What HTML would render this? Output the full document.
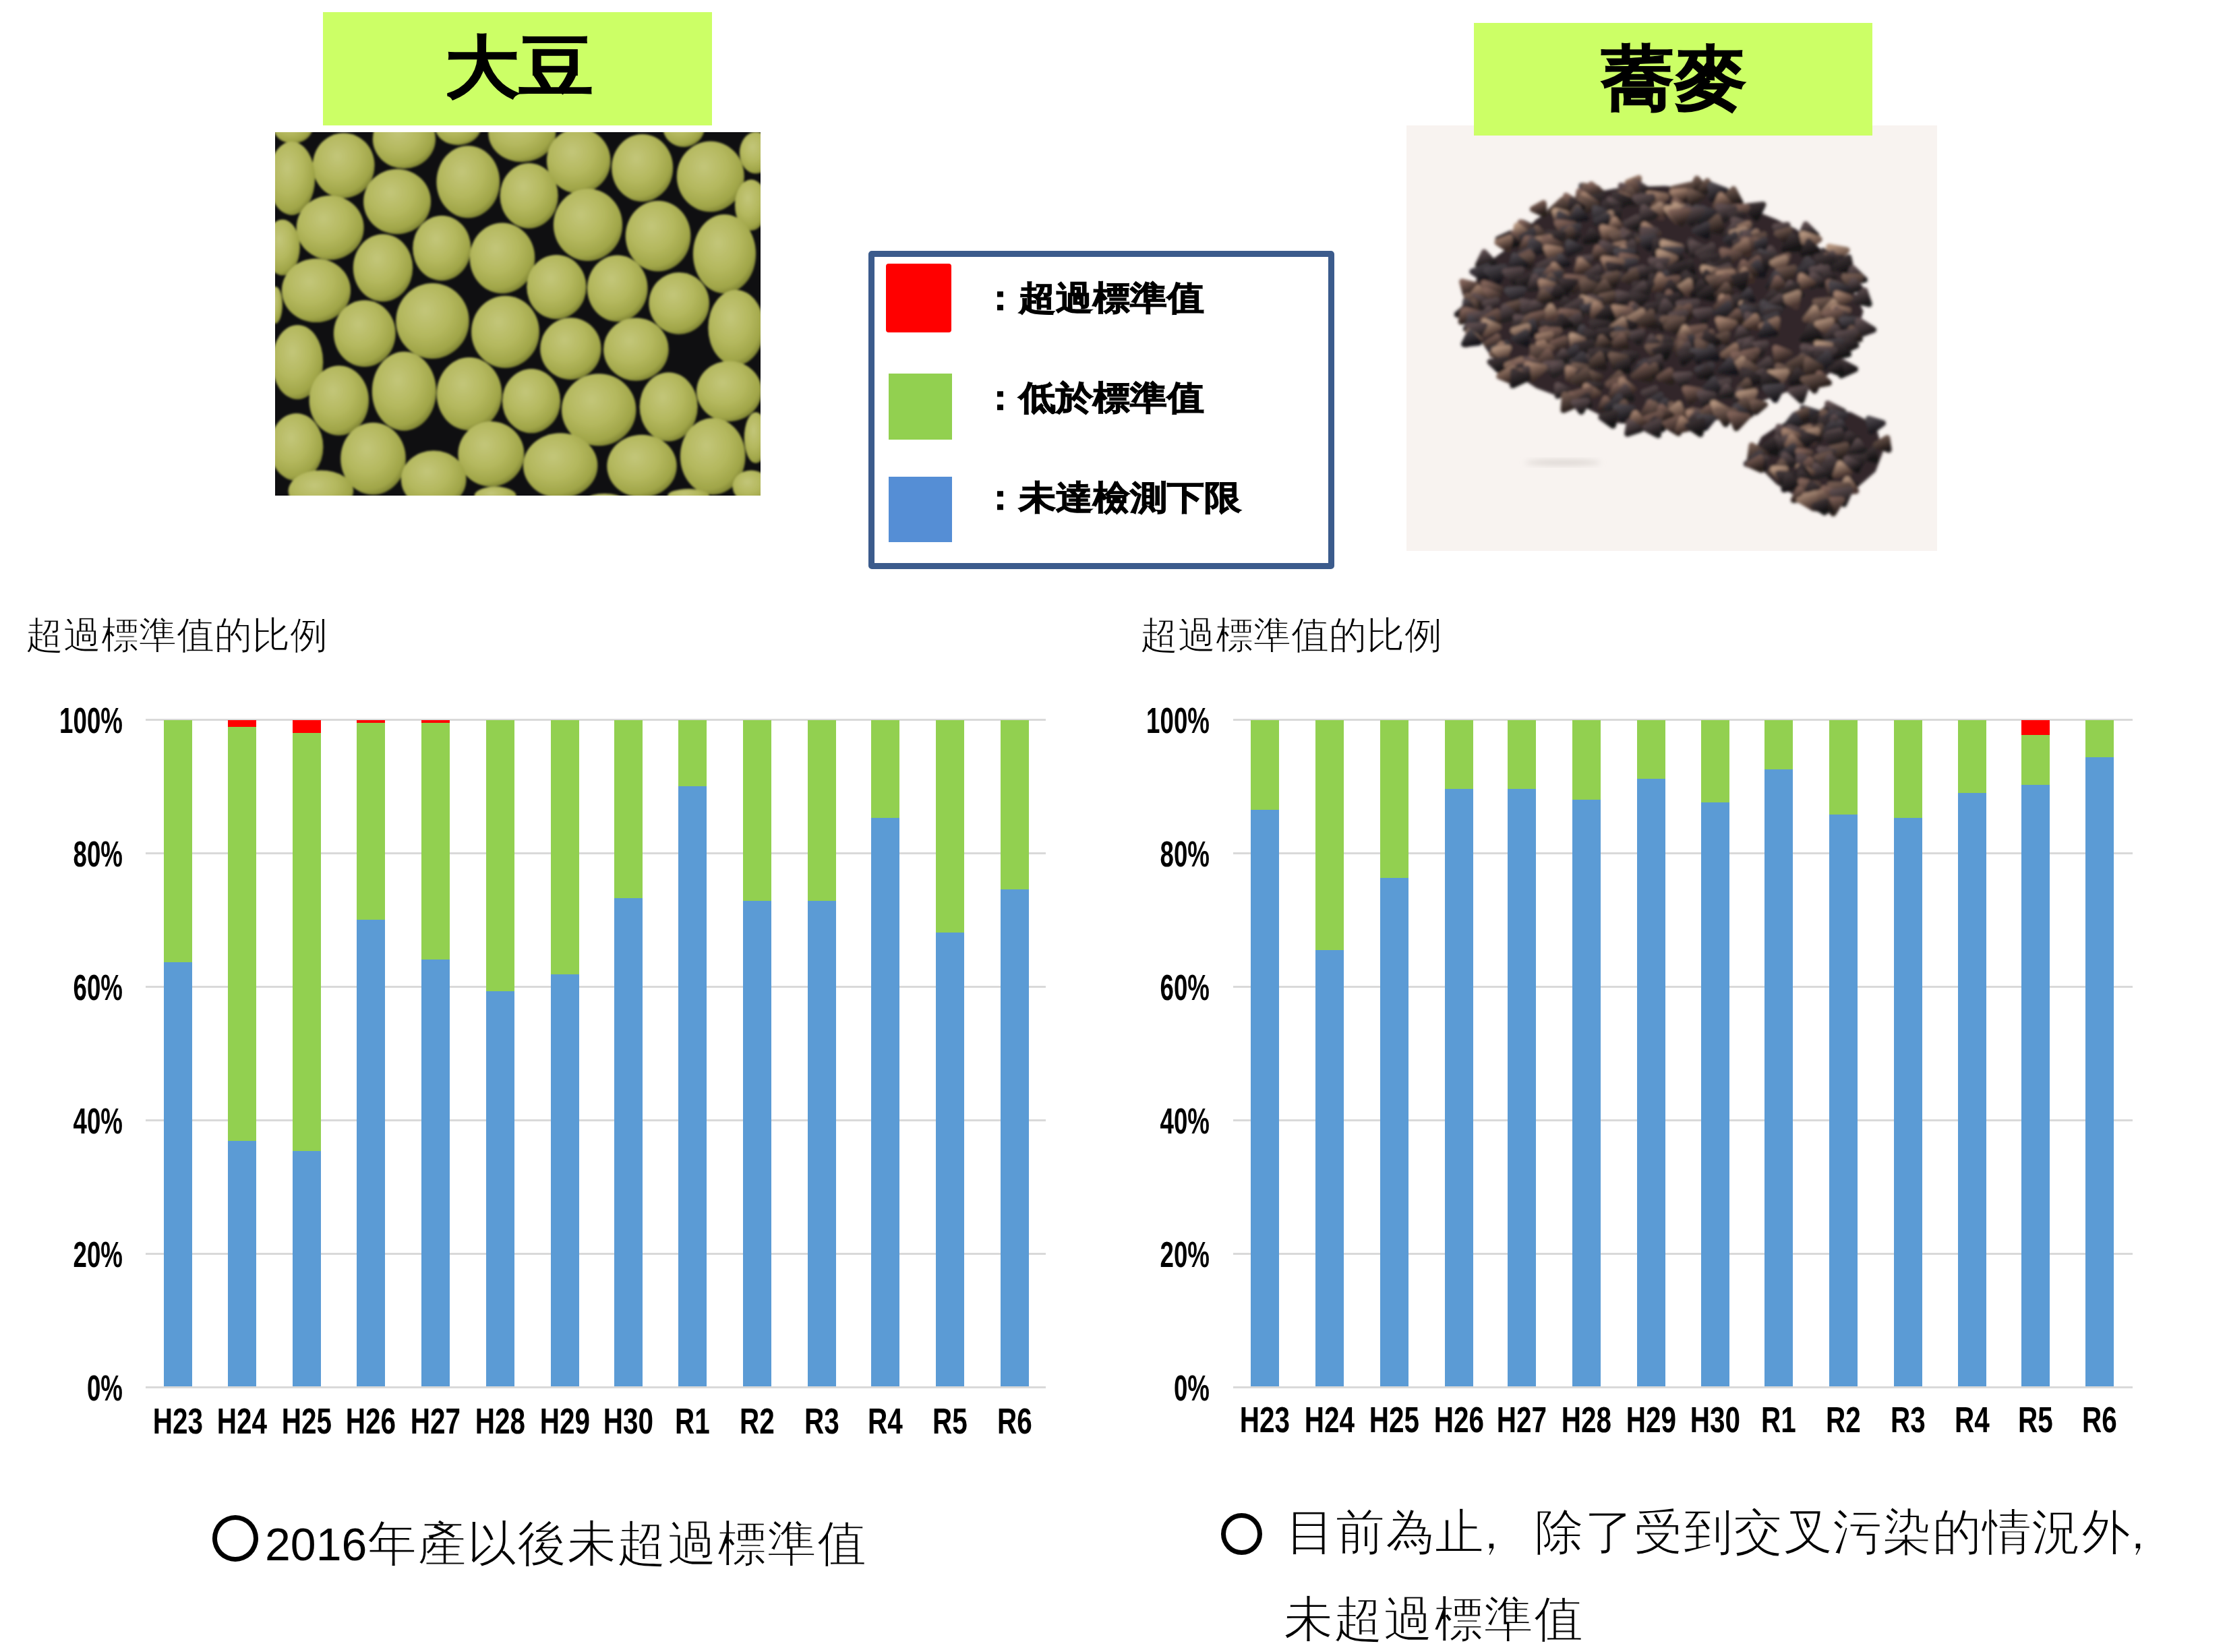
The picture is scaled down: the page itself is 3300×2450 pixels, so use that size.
<!DOCTYPE html>
<html lang="zh-Hant"><head><meta charset="utf-8"><title>大豆・蕎麥 超過標準值的比例</title>
<style>
html,body{margin:0;padding:0;background:#fff;}
body{width:3300px;height:2450px;position:relative;overflow:hidden;font-family:"Liberation Sans",sans-serif;color:#000;}
div{position:absolute;}
.gbox{background:#CCFF66;}
.gbox span{position:absolute;font-weight:700;white-space:nowrap;transform-origin:0 0;}
.gl{height:3px;background:#D9D9D9;}
.bar{width:42px;}
.xl{width:120px;text-align:center;font-weight:bold;font-size:53px;line-height:60px;transform:scaleX(0.764);transform-origin:50% 0;white-space:nowrap;}
.yl{width:200px;text-align:right;font-weight:bold;font-size:54px;line-height:60px;transform:scaleX(0.68);transform-origin:100% 0;white-space:nowrap;}
.ct{font-family:"Liberation Serif",serif;font-size:56px;line-height:80px;white-space:nowrap;color:#000;-webkit-text-stroke:1px #fff;}
.leg{left:1288px;top:372px;width:673px;height:454px;border:9px solid #3B5B8C;border-radius:5px;background:#fff;}
.sq{}
.lt{font-weight:900;font-size:55px;line-height:70px;white-space:nowrap;transform:scaleY(0.91);transform-origin:0 50%;-webkit-text-stroke:1.2px #000;}
.ring{border:7px solid #000;border-radius:50%;box-sizing:border-box;}
.bt{font-family:"Liberation Serif",serif;font-size:73px;line-height:90px;white-space:nowrap;color:#000;-webkit-text-stroke:1.4px #fff;}
.sc{}
</style></head><body>
<div class="gbox" style="left:479px;top:18px;width:577px;height:168px"><span style="left:181px;top:22px;font-size:108px;line-height:130px;transform:scale(1.02,0.925);-webkit-text-stroke:1.5px #000">大豆</span></div>
<svg width="720" height="539" viewBox="0 0 720 539" style="position:absolute;left:408px;top:196px">
<defs><radialGradient id="bg1" cx="40%" cy="36%" r="68%"><stop offset="0" stop-color="#C3C679"/><stop offset="0.5" stop-color="#B4B85E"/><stop offset="0.84" stop-color="#A0A548"/><stop offset="0.96" stop-color="#828735"/><stop offset="1" stop-color="#4E521F"/></radialGradient><filter id="bl" x="-5%" y="-5%" width="110%" height="110%"><feGaussianBlur stdDeviation="1.6"/></filter></defs>
<rect width="720" height="539" fill="#0F0F11"/>
<g filter="url(#bl)">
<ellipse cx="26.5" cy="-7.4" rx="29.3" ry="24.1" fill="url(#bg1)"/>
<ellipse cx="101.7" cy="49.5" rx="45.9" ry="48.3" fill="url(#bg1)"/>
<ellipse cx="191.4" cy="9.9" rx="46.6" ry="44.2" fill="url(#bg1)"/>
<ellipse cx="271.4" cy="-9.1" rx="34.5" ry="28.3" fill="url(#bg1)"/>
<ellipse cx="366.3" cy="1.2" rx="50.0" ry="43.1" fill="url(#bg1)"/>
<ellipse cx="450.2" cy="42.6" rx="47.3" ry="48.3" fill="url(#bg1)"/>
<ellipse cx="544.7" cy="53.0" rx="45.5" ry="50.0" fill="url(#bg1)"/>
<ellipse cx="606.1" cy="-7.4" rx="31.0" ry="29.3" fill="url(#bg1)"/>
<ellipse cx="645.8" cy="65.8" rx="50.0" ry="52.4" fill="url(#bg1)"/>
<ellipse cx="713.0" cy="30.6" rx="24.1" ry="31.0" fill="url(#bg1)"/>
<ellipse cx="24.8" cy="68.5" rx="34.5" ry="54.5" fill="url(#bg1)"/>
<ellipse cx="181.1" cy="103.0" rx="50.0" ry="48.3" fill="url(#bg1)"/>
<ellipse cx="286.3" cy="73.7" rx="46.9" ry="53.5" fill="url(#bg1)"/>
<ellipse cx="376.7" cy="94.4" rx="43.1" ry="48.3" fill="url(#bg1)"/>
<ellipse cx="81.7" cy="141.7" rx="50.0" ry="47.6" fill="url(#bg1)"/>
<ellipse cx="464.0" cy="137.5" rx="51.1" ry="53.5" fill="url(#bg1)"/>
<ellipse cx="568.1" cy="154.1" rx="48.3" ry="52.4" fill="url(#bg1)"/>
<ellipse cx="706.1" cy="108.2" rx="24.1" ry="37.9" fill="url(#bg1)"/>
<ellipse cx="11.0" cy="171.0" rx="25.9" ry="41.4" fill="url(#bg1)"/>
<ellipse cx="666.5" cy="180.6" rx="46.6" ry="58.6" fill="url(#bg1)"/>
<ellipse cx="247.3" cy="172.0" rx="43.1" ry="48.3" fill="url(#bg1)"/>
<ellipse cx="160.0" cy="201.3" rx="44.2" ry="50.0" fill="url(#bg1)"/>
<ellipse cx="337.0" cy="186.9" rx="48.3" ry="52.4" fill="url(#bg1)"/>
<ellipse cx="61.0" cy="234.8" rx="51.1" ry="47.3" fill="url(#bg1)"/>
<ellipse cx="417.4" cy="229.6" rx="44.2" ry="47.6" fill="url(#bg1)"/>
<ellipse cx="507.8" cy="231.7" rx="44.8" ry="49.3" fill="url(#bg1)"/>
<ellipse cx="599.2" cy="253.8" rx="44.8" ry="45.9" fill="url(#bg1)"/>
<ellipse cx="0.6" cy="256.5" rx="10.3" ry="27.6" fill="url(#bg1)"/>
<ellipse cx="233.5" cy="280.0" rx="54.2" ry="55.9" fill="url(#bg1)"/>
<ellipse cx="132.8" cy="298.6" rx="45.9" ry="49.3" fill="url(#bg1)"/>
<ellipse cx="341.5" cy="296.2" rx="50.4" ry="53.5" fill="url(#bg1)"/>
<ellipse cx="683.7" cy="290.0" rx="41.4" ry="55.9" fill="url(#bg1)"/>
<ellipse cx="438.4" cy="321.1" rx="45.2" ry="45.9" fill="url(#bg1)"/>
<ellipse cx="535.4" cy="322.1" rx="48.3" ry="46.6" fill="url(#bg1)"/>
<ellipse cx="33.4" cy="341.1" rx="37.9" ry="55.2" fill="url(#bg1)"/>
<ellipse cx="191.4" cy="384.2" rx="47.6" ry="58.6" fill="url(#bg1)"/>
<ellipse cx="94.8" cy="398.0" rx="44.2" ry="51.7" fill="url(#bg1)"/>
<ellipse cx="288.0" cy="388.3" rx="48.3" ry="54.2" fill="url(#bg1)"/>
<ellipse cx="380.1" cy="398.7" rx="43.1" ry="47.6" fill="url(#bg1)"/>
<ellipse cx="480.2" cy="411.8" rx="55.2" ry="53.5" fill="url(#bg1)"/>
<ellipse cx="583.7" cy="407.3" rx="43.1" ry="51.1" fill="url(#bg1)"/>
<ellipse cx="673.4" cy="384.2" rx="48.3" ry="44.8" fill="url(#bg1)"/>
<ellipse cx="31.7" cy="467.0" rx="39.7" ry="50.0" fill="url(#bg1)"/>
<ellipse cx="145.5" cy="484.2" rx="48.3" ry="53.5" fill="url(#bg1)"/>
<ellipse cx="320.4" cy="477.3" rx="49.0" ry="48.3" fill="url(#bg1)"/>
<ellipse cx="423.2" cy="494.6" rx="55.2" ry="48.3" fill="url(#bg1)"/>
<ellipse cx="544.0" cy="495.3" rx="51.7" ry="46.6" fill="url(#bg1)"/>
<ellipse cx="649.2" cy="480.8" rx="48.3" ry="56.9" fill="url(#bg1)"/>
<ellipse cx="235.2" cy="515.3" rx="48.3" ry="43.1" fill="url(#bg1)"/>
<ellipse cx="67.9" cy="532.5" rx="48.3" ry="31.0" fill="url(#bg1)"/>
<ellipse cx="713.0" cy="453.2" rx="17.2" ry="37.9" fill="url(#bg1)"/>
<ellipse cx="706.1" cy="525.6" rx="27.6" ry="24.1" fill="url(#bg1)"/>
<ellipse cx="326.6" cy="539.4" rx="31.0" ry="13.8" fill="url(#bg1)"/>
<ellipse cx="613.0" cy="539.4" rx="31.0" ry="10.3" fill="url(#bg1)"/>
<ellipse cx="488.8" cy="542.9" rx="24.1" ry="6.9" fill="url(#bg1)"/>
</g></svg>
<svg width="787" height="631" viewBox="0 0 787 631" style="position:absolute;left:2086px;top:186px">
<defs><filter id="bb" x="-5%" y="-5%" width="110%" height="110%"><feGaussianBlur stdDeviation="2.2"/></filter><filter id="bs" x="-50%" y="-50%" width="200%" height="200%"><feGaussianBlur stdDeviation="4"/></filter><linearGradient id="k1" x1="0.1" y1="0" x2="0.5" y2="1"><stop offset="0" stop-color="#A4826F"/><stop offset="1" stop-color="#3A2A26"/></linearGradient><linearGradient id="k2" x1="0.1" y1="0" x2="0.5" y2="1"><stop offset="0" stop-color="#5E4E50"/><stop offset="1" stop-color="#1E1A1C"/></linearGradient><linearGradient id="k3" x1="0.1" y1="0" x2="0.5" y2="1"><stop offset="0" stop-color="#806258"/><stop offset="1" stop-color="#2A201E"/></linearGradient><linearGradient id="k4" x1="0.1" y1="0" x2="0.5" y2="1"><stop offset="0" stop-color="#4C464C"/><stop offset="1" stop-color="#18161A"/></linearGradient><linearGradient id="k5" x1="0.1" y1="0" x2="0.5" y2="1"><stop offset="0" stop-color="#B4947E"/><stop offset="1" stop-color="#4A3630"/></linearGradient><linearGradient id="k6" x1="0.1" y1="0" x2="0.5" y2="1"><stop offset="0" stop-color="#725A50"/><stop offset="1" stop-color="#241C1A"/></linearGradient><linearGradient id="k7" x1="0.1" y1="0" x2="0.5" y2="1"><stop offset="0" stop-color="#403638"/><stop offset="1" stop-color="#141214"/></linearGradient></defs>
<rect width="787" height="631" fill="#F8F3F0"/>
<ellipse cx="232" cy="500" rx="56" ry="4" fill="#DAD4D0" filter="url(#bs)"/>
<g filter="url(#bb)">
<polygon points="280.5,99.0 310.0,93.4 346.7,90.9 383.5,89.8 420.2,93.4 438.6,99.0 475.4,113.7 512.2,124.7 548.9,139.4 578.3,154.1 604.1,176.2 633.5,198.2 648.2,220.3 662.9,246.0 677.6,275.4 670.2,301.2 651.9,330.6 640.8,356.3 618.8,374.7 596.7,385.7 559.9,396.7 530.5,407.8 504.8,422.5 479.1,433.5 449.7,439.0 420.2,439.0 383.5,440.9 346.7,444.5 310.0,440.9 280.5,426.2 251.1,411.4 221.7,400.4 192.3,389.4 170.3,374.7 144.5,360.0 122.5,337.9 107.8,315.9 98.6,286.5 96.7,249.7 104.1,227.6 122.5,201.9 148.2,183.5 170.3,161.5 192.3,139.4 221.7,121.0 251.1,106.3" fill="#302829"/>
<polygon points="548.6,447.3 585.3,428.9 622.1,419.7 658.9,425.2 695.6,443.6 706.7,484.1 695.6,513.5 666.2,539.2 636.8,557.6 607.4,564.9 578.0,550.2 548.6,531.9 522.8,506.1 515.5,484.1 526.5,462.0" fill="#302829"/>
<polygon points="342.8,93.5 328.0,84.6 344.6,78.1" fill="url(#k1)" stroke="url(#k1)" stroke-width="9" stroke-linejoin="round"/>
<polygon points="443.0,93.2 422.6,95.1 430.8,79.1" fill="url(#k6)" stroke="url(#k6)" stroke-width="9" stroke-linejoin="round"/>
<polygon points="435.0,97.3 446.1,82.6 455.5,98.1" fill="url(#k6)" stroke="url(#k6)" stroke-width="9" stroke-linejoin="round"/>
<polygon points="339.0,83.6 357.2,95.3 336.1,102.9" fill="url(#k2)" stroke="url(#k2)" stroke-width="9" stroke-linejoin="round"/>
<polygon points="259.7,89.6 279.2,93.4 265.6,105.9" fill="url(#k4)" stroke="url(#k4)" stroke-width="9" stroke-linejoin="round"/>
<polygon points="318.1,89.3 336.5,94.4 322.2,105.4" fill="url(#k2)" stroke="url(#k2)" stroke-width="9" stroke-linejoin="round"/>
<polygon points="263.7,89.6 283.7,93.7 269.5,106.4" fill="url(#k6)" stroke="url(#k6)" stroke-width="9" stroke-linejoin="round"/>
<polygon points="274.0,87.5 288.6,98.9 269.7,103.9" fill="url(#k3)" stroke="url(#k3)" stroke-width="9" stroke-linejoin="round"/>
<polygon points="395.8,93.6 421.9,88.0 414.6,110.0" fill="url(#k6)" stroke="url(#k6)" stroke-width="9" stroke-linejoin="round"/>
<polygon points="338.1,85.2 343.3,107.6 317.8,100.2" fill="url(#k3)" stroke="url(#k3)" stroke-width="9" stroke-linejoin="round"/>
<polygon points="473.9,96.9 453.3,109.3 451.0,88.0" fill="url(#k4)" stroke="url(#k4)" stroke-width="9" stroke-linejoin="round"/>
<polygon points="405.3,112.5 394.8,98.7 414.0,97.9" fill="url(#k1)" stroke="url(#k1)" stroke-width="9" stroke-linejoin="round"/>
<polygon points="256.0,97.8 270.0,106.7 254.0,112.6" fill="url(#k3)" stroke="url(#k3)" stroke-width="9" stroke-linejoin="round"/>
<polygon points="420.4,97.8 437.8,105.8 421.0,114.6" fill="url(#k6)" stroke="url(#k6)" stroke-width="9" stroke-linejoin="round"/>
<polygon points="495.5,115.4 469.0,112.7 484.9,94.6" fill="url(#k6)" stroke="url(#k6)" stroke-width="9" stroke-linejoin="round"/>
<polygon points="316.7,113.7 331.6,94.7 343.6,115.2" fill="url(#k6)" stroke="url(#k6)" stroke-width="9" stroke-linejoin="round"/>
<polygon points="310.7,101.3 329.1,106.7 314.4,117.5" fill="url(#k1)" stroke="url(#k1)" stroke-width="9" stroke-linejoin="round"/>
<polygon points="385.3,105.3 368.5,122.4 359.5,101.5" fill="url(#k1)" stroke="url(#k1)" stroke-width="9" stroke-linejoin="round"/>
<polygon points="350.0,119.3 346.8,102.8 365.2,108.7" fill="url(#k7)" stroke="url(#k7)" stroke-width="9" stroke-linejoin="round"/>
<polygon points="310.0,123.4 308.7,100.9 332.3,111.1" fill="url(#k7)" stroke="url(#k7)" stroke-width="9" stroke-linejoin="round"/>
<polygon points="354.0,124.9 339.0,107.1 364.5,105.0" fill="url(#k2)" stroke="url(#k2)" stroke-width="9" stroke-linejoin="round"/>
<polygon points="290.7,103.4 283.8,124.8 265.5,109.1" fill="url(#k7)" stroke="url(#k7)" stroke-width="9" stroke-linejoin="round"/>
<polygon points="458.3,121.0 466.2,103.7 479.9,118.2" fill="url(#k1)" stroke="url(#k1)" stroke-width="9" stroke-linejoin="round"/>
<polygon points="262.5,102.7 282.3,116.7 258.2,124.3" fill="url(#k1)" stroke="url(#k1)" stroke-width="9" stroke-linejoin="round"/>
<polygon points="256.1,116.4 234.1,124.7 236.6,104.3" fill="url(#k3)" stroke="url(#k3)" stroke-width="9" stroke-linejoin="round"/>
<polygon points="299.9,125.3 301.3,110.3 315.9,118.9" fill="url(#k2)" stroke="url(#k2)" stroke-width="9" stroke-linejoin="round"/>
<polygon points="281.9,117.6 259.7,130.0 258.1,107.5" fill="url(#k6)" stroke="url(#k6)" stroke-width="9" stroke-linejoin="round"/>
<polygon points="261.2,121.7 242.0,127.9 245.3,110.6" fill="url(#k7)" stroke="url(#k7)" stroke-width="9" stroke-linejoin="round"/>
<polygon points="414.9,123.2 394.5,129.3 398.5,111.2" fill="url(#k3)" stroke="url(#k3)" stroke-width="9" stroke-linejoin="round"/>
<polygon points="231.3,110.5 239.4,132.0 213.4,127.2" fill="url(#k6)" stroke="url(#k6)" stroke-width="9" stroke-linejoin="round"/>
<polygon points="204.3,131.5 187.3,124.1 203.3,115.3" fill="url(#k3)" stroke="url(#k3)" stroke-width="9" stroke-linejoin="round"/>
<polygon points="519.1,137.7 503.3,120.3 528.9,117.4" fill="url(#k7)" stroke="url(#k7)" stroke-width="9" stroke-linejoin="round"/>
<polygon points="392.1,126.9 373.1,133.8 375.6,116.3" fill="url(#k6)" stroke="url(#k6)" stroke-width="9" stroke-linejoin="round"/>
<polygon points="287.8,135.1 294.2,114.3 312.2,129.4" fill="url(#k7)" stroke="url(#k7)" stroke-width="9" stroke-linejoin="round"/>
<polygon points="484.5,121.6 505.1,121.5 494.9,136.8" fill="url(#k3)" stroke="url(#k3)" stroke-width="9" stroke-linejoin="round"/>
<polygon points="398.3,117.8 417.2,127.2 398.1,136.4" fill="url(#k5)" stroke="url(#k5)" stroke-width="9" stroke-linejoin="round"/>
<polygon points="471.8,139.8 461.9,120.2 486.7,122.7" fill="url(#k2)" stroke="url(#k2)" stroke-width="9" stroke-linejoin="round"/>
<polygon points="376.1,118.3 378.5,136.7 358.5,129.3" fill="url(#k5)" stroke="url(#k5)" stroke-width="9" stroke-linejoin="round"/>
<polygon points="385.8,123.2 412.2,122.2 400.1,142.2" fill="url(#k5)" stroke="url(#k5)" stroke-width="9" stroke-linejoin="round"/>
<polygon points="417.7,121.0 421.5,136.2 404.2,131.4" fill="url(#k2)" stroke="url(#k2)" stroke-width="9" stroke-linejoin="round"/>
<polygon points="440.8,123.3 433.3,140.0 420.0,126.2" fill="url(#k4)" stroke="url(#k4)" stroke-width="9" stroke-linejoin="round"/>
<polygon points="261.8,135.8 243.2,134.6 253.7,121.5" fill="url(#k6)" stroke="url(#k6)" stroke-width="9" stroke-linejoin="round"/>
<polygon points="429.4,122.2 455.2,128.4 435.9,144.3" fill="url(#k4)" stroke="url(#k4)" stroke-width="9" stroke-linejoin="round"/>
<polygon points="348.5,140.5 351.7,121.4 369.5,133.3" fill="url(#k2)" stroke="url(#k2)" stroke-width="9" stroke-linejoin="round"/>
<polygon points="438.3,126.2 423.0,145.6 410.8,124.7" fill="url(#k2)" stroke="url(#k2)" stroke-width="9" stroke-linejoin="round"/>
<polygon points="302.4,132.2 281.0,144.0 279.6,122.3" fill="url(#k4)" stroke="url(#k4)" stroke-width="9" stroke-linejoin="round"/>
<polygon points="220.3,126.9 237.4,131.2 224.5,141.7" fill="url(#k5)" stroke="url(#k5)" stroke-width="9" stroke-linejoin="round"/>
<polygon points="407.7,145.4 392.9,128.7 417.3,126.2" fill="url(#k3)" stroke="url(#k3)" stroke-width="9" stroke-linejoin="round"/>
<polygon points="253.3,123.8 266.5,137.8 245.7,140.5" fill="url(#k4)" stroke="url(#k4)" stroke-width="9" stroke-linejoin="round"/>
<polygon points="293.4,132.8 315.1,124.8 312.4,144.8" fill="url(#k7)" stroke="url(#k7)" stroke-width="9" stroke-linejoin="round"/>
<polygon points="486.5,145.0 480.2,129.4 499.3,132.5" fill="url(#k7)" stroke="url(#k7)" stroke-width="9" stroke-linejoin="round"/>
<polygon points="284.3,141.0 302.9,130.4 304.4,149.4" fill="url(#k5)" stroke="url(#k5)" stroke-width="9" stroke-linejoin="round"/>
<polygon points="226.9,130.5 246.2,142.5 224.3,150.7" fill="url(#k4)" stroke="url(#k4)" stroke-width="9" stroke-linejoin="round"/>
<polygon points="297.9,149.8 281.3,141.4 298.1,133.4" fill="url(#k4)" stroke="url(#k4)" stroke-width="9" stroke-linejoin="round"/>
<polygon points="342.3,153.0 325.5,145.3 341.8,136.8" fill="url(#k2)" stroke="url(#k2)" stroke-width="9" stroke-linejoin="round"/>
<polygon points="244.1,151.7 225.6,151.5 235.1,138.0" fill="url(#k7)" stroke="url(#k7)" stroke-width="9" stroke-linejoin="round"/>
<polygon points="301.7,153.8 308.8,140.1 319.2,152.2" fill="url(#k1)" stroke="url(#k1)" stroke-width="9" stroke-linejoin="round"/>
<polygon points="461.3,136.1 469.1,158.4 442.5,153.0" fill="url(#k6)" stroke="url(#k6)" stroke-width="9" stroke-linejoin="round"/>
<polygon points="485.1,139.8 510.8,147.7 490.0,162.7" fill="url(#k2)" stroke="url(#k2)" stroke-width="9" stroke-linejoin="round"/>
<polygon points="248.2,147.0 232.6,163.6 223.5,143.8" fill="url(#k3)" stroke="url(#k3)" stroke-width="9" stroke-linejoin="round"/>
<polygon points="172.6,160.4 172.6,144.3 189.0,152.3" fill="url(#k7)" stroke="url(#k7)" stroke-width="9" stroke-linejoin="round"/>
<polygon points="169.2,143.7 185.4,153.3 167.6,160.4" fill="url(#k3)" stroke="url(#k3)" stroke-width="9" stroke-linejoin="round"/>
<polygon points="565.1,147.5 558.8,162.1 547.0,150.2" fill="url(#k2)" stroke="url(#k2)" stroke-width="9" stroke-linejoin="round"/>
<polygon points="505.4,164.9 487.0,154.2 507.1,146.0" fill="url(#k1)" stroke="url(#k1)" stroke-width="9" stroke-linejoin="round"/>
<polygon points="445.9,164.9 427.6,156.2 445.5,147.1" fill="url(#k4)" stroke="url(#k4)" stroke-width="9" stroke-linejoin="round"/>
<polygon points="163.6,148.7 178.3,158.7 160.7,164.5" fill="url(#k5)" stroke="url(#k5)" stroke-width="9" stroke-linejoin="round"/>
<polygon points="249.9,169.3 232.4,155.1 255.6,149.3" fill="url(#k4)" stroke="url(#k4)" stroke-width="9" stroke-linejoin="round"/>
<polygon points="485.0,148.9 493.0,164.1 473.6,162.4" fill="url(#k2)" stroke="url(#k2)" stroke-width="9" stroke-linejoin="round"/>
<polygon points="373.5,160.0 350.2,168.9 352.8,147.3" fill="url(#k1)" stroke="url(#k1)" stroke-width="9" stroke-linejoin="round"/>
<polygon points="608.3,163.2 583.4,166.9 592.1,146.7" fill="url(#k2)" stroke="url(#k2)" stroke-width="9" stroke-linejoin="round"/>
<polygon points="290.6,151.3 310.8,156.9 295.0,168.9" fill="url(#k1)" stroke="url(#k1)" stroke-width="9" stroke-linejoin="round"/>
<polygon points="350.3,154.1 370.6,156.0 358.6,170.0" fill="url(#k2)" stroke="url(#k2)" stroke-width="9" stroke-linejoin="round"/>
<polygon points="254.6,163.1 235.9,166.8 241.5,151.2" fill="url(#k2)" stroke="url(#k2)" stroke-width="9" stroke-linejoin="round"/>
<polygon points="501.8,154.1 497.6,170.9 482.6,159.4" fill="url(#k5)" stroke="url(#k5)" stroke-width="9" stroke-linejoin="round"/>
<polygon points="192.9,152.2 206.0,164.8 186.7,168.2" fill="url(#k6)" stroke="url(#k6)" stroke-width="9" stroke-linejoin="round"/>
<polygon points="549.6,160.1 568.1,155.1 563.8,171.2" fill="url(#k6)" stroke="url(#k6)" stroke-width="9" stroke-linejoin="round"/>
<polygon points="245.6,170.5 227.2,163.5 243.6,153.5" fill="url(#k6)" stroke="url(#k6)" stroke-width="9" stroke-linejoin="round"/>
<polygon points="518.9,157.6 511.0,174.6 497.5,160.3" fill="url(#k4)" stroke="url(#k4)" stroke-width="9" stroke-linejoin="round"/>
<polygon points="335.7,166.7 316.8,172.0 320.8,155.4" fill="url(#k2)" stroke="url(#k2)" stroke-width="9" stroke-linejoin="round"/>
<polygon points="209.8,159.3 233.3,161.1 219.7,177.5" fill="url(#k7)" stroke="url(#k7)" stroke-width="9" stroke-linejoin="round"/>
<polygon points="285.5,170.6 265.2,172.0 273.9,156.4" fill="url(#k7)" stroke="url(#k7)" stroke-width="9" stroke-linejoin="round"/>
<polygon points="304.9,161.3 328.4,160.0 318.0,178.0" fill="url(#k6)" stroke="url(#k6)" stroke-width="9" stroke-linejoin="round"/>
<polygon points="366.8,179.7 344.7,167.3 368.3,157.2" fill="url(#k2)" stroke="url(#k2)" stroke-width="9" stroke-linejoin="round"/>
<polygon points="165.0,169.6 187.3,155.9 190.1,179.2" fill="url(#k4)" stroke="url(#k4)" stroke-width="9" stroke-linejoin="round"/>
<polygon points="508.5,179.5 501.5,160.6 524.3,164.9" fill="url(#k2)" stroke="url(#k2)" stroke-width="9" stroke-linejoin="round"/>
<polygon points="343.0,165.7 327.2,179.0 321.6,160.7" fill="url(#k2)" stroke="url(#k2)" stroke-width="9" stroke-linejoin="round"/>
<polygon points="136.0,168.7 155.3,159.9 154.6,178.5" fill="url(#k7)" stroke="url(#k7)" stroke-width="9" stroke-linejoin="round"/>
<polygon points="502.4,172.2 518.8,158.2 524.8,177.2" fill="url(#k1)" stroke="url(#k1)" stroke-width="9" stroke-linejoin="round"/>
<polygon points="473.5,170.7 486.9,161.2 489.9,175.8" fill="url(#k4)" stroke="url(#k4)" stroke-width="9" stroke-linejoin="round"/>
<polygon points="168.5,176.5 147.1,176.0 158.3,160.5" fill="url(#k3)" stroke="url(#k3)" stroke-width="9" stroke-linejoin="round"/>
<polygon points="612.2,168.8 592.0,183.2 587.4,161.1" fill="url(#k5)" stroke="url(#k5)" stroke-width="9" stroke-linejoin="round"/>
<polygon points="510.6,171.8 530.1,162.2 530.2,181.4" fill="url(#k6)" stroke="url(#k6)" stroke-width="9" stroke-linejoin="round"/>
<polygon points="164.5,175.8 146.4,178.1 153.1,163.6" fill="url(#k7)" stroke="url(#k7)" stroke-width="9" stroke-linejoin="round"/>
<polygon points="365.8,165.1 360.2,182.9 344.8,169.9" fill="url(#k4)" stroke="url(#k4)" stroke-width="9" stroke-linejoin="round"/>
<polygon points="331.4,182.1 325.7,167.7 343.2,170.8" fill="url(#k6)" stroke="url(#k6)" stroke-width="9" stroke-linejoin="round"/>
<polygon points="333.9,163.0 338.4,183.0 315.8,176.3" fill="url(#k7)" stroke="url(#k7)" stroke-width="9" stroke-linejoin="round"/>
<polygon points="502.1,177.7 519.8,161.9 527.1,182.8" fill="url(#k6)" stroke="url(#k6)" stroke-width="9" stroke-linejoin="round"/>
<polygon points="509.0,184.8 487.3,174.2 509.0,163.5" fill="url(#k2)" stroke="url(#k2)" stroke-width="9" stroke-linejoin="round"/>
<polygon points="150.9,183.6 134.8,173.4 153.1,166.6" fill="url(#k1)" stroke="url(#k1)" stroke-width="9" stroke-linejoin="round"/>
<polygon points="186.2,170.8 212.4,166.1 204.1,187.7" fill="url(#k1)" stroke="url(#k1)" stroke-width="9" stroke-linejoin="round"/>
<polygon points="183.3,167.0 198.2,177.1 180.5,183.0" fill="url(#k2)" stroke="url(#k2)" stroke-width="9" stroke-linejoin="round"/>
<polygon points="499.8,169.2 525.6,171.0 510.8,189.1" fill="url(#k3)" stroke="url(#k3)" stroke-width="9" stroke-linejoin="round"/>
<polygon points="572.6,163.8 586.8,183.1 560.0,183.9" fill="url(#k7)" stroke="url(#k7)" stroke-width="9" stroke-linejoin="round"/>
<polygon points="205.7,187.9 205.0,166.4 227.3,176.6" fill="url(#k3)" stroke="url(#k3)" stroke-width="9" stroke-linejoin="round"/>
<polygon points="530.7,169.6 530.8,185.2 514.9,177.5" fill="url(#k4)" stroke="url(#k4)" stroke-width="9" stroke-linejoin="round"/>
<polygon points="171.1,183.8 178.1,167.7 191.1,180.9" fill="url(#k3)" stroke="url(#k3)" stroke-width="9" stroke-linejoin="round"/>
<polygon points="434.7,180.2 417.7,185.3 420.9,170.2" fill="url(#k7)" stroke="url(#k7)" stroke-width="9" stroke-linejoin="round"/>
<polygon points="489.5,180.8 511.1,170.4 510.9,191.5" fill="url(#k3)" stroke="url(#k3)" stroke-width="9" stroke-linejoin="round"/>
<polygon points="376.2,172.6 398.4,178.5 381.2,191.9" fill="url(#k5)" stroke="url(#k5)" stroke-width="9" stroke-linejoin="round"/>
<polygon points="369.1,169.9 392.8,181.0 369.7,192.8" fill="url(#k7)" stroke="url(#k7)" stroke-width="9" stroke-linejoin="round"/>
<polygon points="240.3,173.3 257.6,181.7 240.4,190.2" fill="url(#k4)" stroke="url(#k4)" stroke-width="9" stroke-linejoin="round"/>
<polygon points="185.5,171.1 204.0,184.5 181.2,191.4" fill="url(#k4)" stroke="url(#k4)" stroke-width="9" stroke-linejoin="round"/>
<polygon points="486.4,184.2 503.7,172.0 507.5,190.9" fill="url(#k1)" stroke="url(#k1)" stroke-width="9" stroke-linejoin="round"/>
<polygon points="302.6,180.3 322.7,175.2 317.9,192.6" fill="url(#k1)" stroke="url(#k1)" stroke-width="9" stroke-linejoin="round"/>
<polygon points="423.9,192.2 422.4,174.0 441.7,182.0" fill="url(#k2)" stroke="url(#k2)" stroke-width="9" stroke-linejoin="round"/>
<polygon points="596.4,171.6 611.3,187.3 587.9,190.4" fill="url(#k7)" stroke="url(#k7)" stroke-width="9" stroke-linejoin="round"/>
<polygon points="380.0,174.2 406.6,180.5 386.9,196.9" fill="url(#k5)" stroke="url(#k5)" stroke-width="9" stroke-linejoin="round"/>
<polygon points="291.8,196.6 289.8,173.9 313.9,183.8" fill="url(#k2)" stroke="url(#k2)" stroke-width="9" stroke-linejoin="round"/>
<polygon points="315.8,188.6 335.2,173.1 341.2,195.1" fill="url(#k2)" stroke="url(#k2)" stroke-width="9" stroke-linejoin="round"/>
<polygon points="207.2,181.2 228.4,184.8 214.1,198.6" fill="url(#k1)" stroke="url(#k1)" stroke-width="9" stroke-linejoin="round"/>
<polygon points="626.6,179.9 653.1,185.0 634.6,202.0" fill="url(#k5)" stroke="url(#k5)" stroke-width="9" stroke-linejoin="round"/>
<polygon points="453.0,178.1 454.1,199.5 431.8,189.7" fill="url(#k2)" stroke="url(#k2)" stroke-width="9" stroke-linejoin="round"/>
<polygon points="283.1,181.3 295.7,192.7 277.8,196.2" fill="url(#k3)" stroke="url(#k3)" stroke-width="9" stroke-linejoin="round"/>
<polygon points="395.1,202.7 382.0,184.2 407.4,183.8" fill="url(#k4)" stroke="url(#k4)" stroke-width="9" stroke-linejoin="round"/>
<polygon points="185.0,183.7 184.1,198.6 169.3,190.5" fill="url(#k4)" stroke="url(#k4)" stroke-width="9" stroke-linejoin="round"/>
<polygon points="333.3,196.7 311.6,197.5 321.6,181.1" fill="url(#k1)" stroke="url(#k1)" stroke-width="9" stroke-linejoin="round"/>
<polygon points="322.3,204.5 311.0,185.6 336.0,186.7" fill="url(#k4)" stroke="url(#k4)" stroke-width="9" stroke-linejoin="round"/>
<polygon points="553.1,199.1 529.7,200.8 539.7,182.8" fill="url(#k2)" stroke="url(#k2)" stroke-width="9" stroke-linejoin="round"/>
<polygon points="493.3,191.7 474.7,206.9 468.5,185.6" fill="url(#k3)" stroke="url(#k3)" stroke-width="9" stroke-linejoin="round"/>
<polygon points="377.7,185.8 397.5,195.4 377.8,205.2" fill="url(#k7)" stroke="url(#k7)" stroke-width="9" stroke-linejoin="round"/>
<polygon points="406.7,197.5 389.8,203.3 392.3,188.0" fill="url(#k7)" stroke="url(#k7)" stroke-width="9" stroke-linejoin="round"/>
<polygon points="546.8,196.5 526.0,208.3 524.4,187.1" fill="url(#k4)" stroke="url(#k4)" stroke-width="9" stroke-linejoin="round"/>
<polygon points="618.0,186.0 636.9,199.6 613.5,206.7" fill="url(#k7)" stroke="url(#k7)" stroke-width="9" stroke-linejoin="round"/>
<polygon points="398.6,196.8 377.7,209.9 374.7,187.9" fill="url(#k5)" stroke="url(#k5)" stroke-width="9" stroke-linejoin="round"/>
<polygon points="643.3,193.7 632.3,208.5 622.7,193.0" fill="url(#k3)" stroke="url(#k3)" stroke-width="9" stroke-linejoin="round"/>
<polygon points="161.1,198.2 182.3,188.3 181.8,208.8" fill="url(#k3)" stroke="url(#k3)" stroke-width="9" stroke-linejoin="round"/>
<polygon points="631.4,189.2 638.9,204.1 620.0,202.2" fill="url(#k2)" stroke="url(#k2)" stroke-width="9" stroke-linejoin="round"/>
<polygon points="516.8,189.7 540.1,198.2 519.8,211.1" fill="url(#k7)" stroke="url(#k7)" stroke-width="9" stroke-linejoin="round"/>
<polygon points="461.8,194.2 449.1,211.5 437.7,193.5" fill="url(#k7)" stroke="url(#k7)" stroke-width="9" stroke-linejoin="round"/>
<polygon points="129.9,204.2 106.2,206.9 115.2,188.1" fill="url(#k2)" stroke="url(#k2)" stroke-width="9" stroke-linejoin="round"/>
<polygon points="341.2,197.2 325.6,211.4 318.8,192.9" fill="url(#k3)" stroke="url(#k3)" stroke-width="9" stroke-linejoin="round"/>
<polygon points="186.2,193.4 181.8,210.0 167.1,198.4" fill="url(#k6)" stroke="url(#k6)" stroke-width="9" stroke-linejoin="round"/>
<polygon points="624.5,194.8 646.3,196.1 634.0,211.6" fill="url(#k7)" stroke="url(#k7)" stroke-width="9" stroke-linejoin="round"/>
<polygon points="273.3,196.3 266.5,210.4 255.5,198.4" fill="url(#k2)" stroke="url(#k2)" stroke-width="9" stroke-linejoin="round"/>
<polygon points="608.7,194.5 632.1,197.7 617.2,213.3" fill="url(#k7)" stroke="url(#k7)" stroke-width="9" stroke-linejoin="round"/>
<polygon points="561.4,213.1 543.5,200.2 565.6,193.5" fill="url(#k3)" stroke="url(#k3)" stroke-width="9" stroke-linejoin="round"/>
<polygon points="239.7,205.6 222.0,208.6 227.8,194.0" fill="url(#k4)" stroke="url(#k4)" stroke-width="9" stroke-linejoin="round"/>
<polygon points="514.0,198.3 540.9,195.3 530.4,216.6" fill="url(#k7)" stroke="url(#k7)" stroke-width="9" stroke-linejoin="round"/>
<polygon points="154.9,211.8 160.1,192.9 176.8,206.2" fill="url(#k4)" stroke="url(#k4)" stroke-width="9" stroke-linejoin="round"/>
<polygon points="542.9,203.5 561.6,197.1 558.8,214.1" fill="url(#k5)" stroke="url(#k5)" stroke-width="9" stroke-linejoin="round"/>
<polygon points="386.5,199.6 375.0,217.4 362.7,200.0" fill="url(#k2)" stroke="url(#k2)" stroke-width="9" stroke-linejoin="round"/>
<polygon points="476.7,198.4 476.5,213.3 461.4,205.7" fill="url(#k7)" stroke="url(#k7)" stroke-width="9" stroke-linejoin="round"/>
<polygon points="330.4,215.1 320.4,201.7 339.1,201.1" fill="url(#k4)" stroke="url(#k4)" stroke-width="9" stroke-linejoin="round"/>
<polygon points="292.4,197.6 319.5,201.6 301.8,219.6" fill="url(#k1)" stroke="url(#k1)" stroke-width="9" stroke-linejoin="round"/>
<polygon points="504.7,208.7 521.3,197.6 524.2,215.4" fill="url(#k3)" stroke="url(#k3)" stroke-width="9" stroke-linejoin="round"/>
<polygon points="660.1,218.4 634.9,210.2 655.9,195.7" fill="url(#k7)" stroke="url(#k7)" stroke-width="9" stroke-linejoin="round"/>
<polygon points="477.4,196.9 477.5,220.4 453.5,208.7" fill="url(#k7)" stroke="url(#k7)" stroke-width="9" stroke-linejoin="round"/>
<polygon points="218.7,198.3 217.9,219.6 196.6,208.4" fill="url(#k2)" stroke="url(#k2)" stroke-width="9" stroke-linejoin="round"/>
<polygon points="605.1,214.8 583.4,214.0 595.0,198.4" fill="url(#k4)" stroke="url(#k4)" stroke-width="9" stroke-linejoin="round"/>
<polygon points="271.7,211.6 252.8,216.0 257.7,200.0" fill="url(#k1)" stroke="url(#k1)" stroke-width="9" stroke-linejoin="round"/>
<polygon points="425.0,220.6 404.0,213.8 421.5,201.7" fill="url(#k7)" stroke="url(#k7)" stroke-width="9" stroke-linejoin="round"/>
<polygon points="316.9,209.5 304.4,221.5 298.5,206.3" fill="url(#k7)" stroke="url(#k7)" stroke-width="9" stroke-linejoin="round"/>
<polygon points="407.9,223.1 390.9,210.5 412.2,204.3" fill="url(#k7)" stroke="url(#k7)" stroke-width="9" stroke-linejoin="round"/>
<polygon points="465.6,213.6 449.2,222.3 448.5,205.8" fill="url(#k7)" stroke="url(#k7)" stroke-width="9" stroke-linejoin="round"/>
<polygon points="582.6,215.6 601.2,203.6 604.1,223.3" fill="url(#k4)" stroke="url(#k4)" stroke-width="9" stroke-linejoin="round"/>
<polygon points="529.6,222.1 505.4,219.2 520.5,202.8" fill="url(#k4)" stroke="url(#k4)" stroke-width="9" stroke-linejoin="round"/>
<polygon points="499.6,203.2 517.6,220.6 490.9,225.1" fill="url(#k3)" stroke="url(#k3)" stroke-width="9" stroke-linejoin="round"/>
<polygon points="218.5,206.9 231.5,219.5 212.2,222.8" fill="url(#k1)" stroke="url(#k1)" stroke-width="9" stroke-linejoin="round"/>
<polygon points="387.5,220.1 367.9,223.5 374.2,207.4" fill="url(#k2)" stroke="url(#k2)" stroke-width="9" stroke-linejoin="round"/>
<polygon points="475.2,228.6 455.5,216.4 477.8,208.0" fill="url(#k2)" stroke="url(#k2)" stroke-width="9" stroke-linejoin="round"/>
<polygon points="368.3,214.3 357.6,226.4 350.6,212.5" fill="url(#k7)" stroke="url(#k7)" stroke-width="9" stroke-linejoin="round"/>
<polygon points="601.5,213.7 624.3,211.3 615.4,229.3" fill="url(#k2)" stroke="url(#k2)" stroke-width="9" stroke-linejoin="round"/>
<polygon points="350.8,211.9 346.1,226.9 333.1,215.9" fill="url(#k2)" stroke="url(#k2)" stroke-width="9" stroke-linejoin="round"/>
<polygon points="97.7,216.8 120.6,208.8 117.4,229.7" fill="url(#k4)" stroke="url(#k4)" stroke-width="9" stroke-linejoin="round"/>
<polygon points="136.7,232.1 118.4,214.9 145.0,210.0" fill="url(#k4)" stroke="url(#k4)" stroke-width="9" stroke-linejoin="round"/>
<polygon points="461.4,216.4 445.8,229.6 440.2,211.5" fill="url(#k5)" stroke="url(#k5)" stroke-width="9" stroke-linejoin="round"/>
<polygon points="574.8,211.6 567.2,231.1 551.1,215.7" fill="url(#k6)" stroke="url(#k6)" stroke-width="9" stroke-linejoin="round"/>
<polygon points="284.6,210.6 286.9,227.8 268.2,220.9" fill="url(#k2)" stroke="url(#k2)" stroke-width="9" stroke-linejoin="round"/>
<polygon points="201.8,229.6 192.7,216.1 211.0,216.2" fill="url(#k4)" stroke="url(#k4)" stroke-width="9" stroke-linejoin="round"/>
<polygon points="160.7,232.9 146.2,216.4 170.3,214.0" fill="url(#k2)" stroke="url(#k2)" stroke-width="9" stroke-linejoin="round"/>
<polygon points="472.7,233.0 456.2,218.2 479.5,213.4" fill="url(#k6)" stroke="url(#k6)" stroke-width="9" stroke-linejoin="round"/>
<polygon points="203.8,226.1 212.9,213.0 221.6,226.2" fill="url(#k3)" stroke="url(#k3)" stroke-width="9" stroke-linejoin="round"/>
<polygon points="633.8,226.1 608.1,232.5 614.4,210.3" fill="url(#k2)" stroke="url(#k2)" stroke-width="9" stroke-linejoin="round"/>
<polygon points="483.8,217.8 475.6,234.1 463.0,219.9" fill="url(#k1)" stroke="url(#k1)" stroke-width="9" stroke-linejoin="round"/>
<polygon points="653.0,233.4 661.8,211.6 679.6,228.9" fill="url(#k2)" stroke="url(#k2)" stroke-width="9" stroke-linejoin="round"/>
<polygon points="512.7,230.5 490.4,231.1 500.9,214.4" fill="url(#k1)" stroke="url(#k1)" stroke-width="9" stroke-linejoin="round"/>
<polygon points="321.7,228.1 338.7,215.5 343.1,234.3" fill="url(#k6)" stroke="url(#k6)" stroke-width="9" stroke-linejoin="round"/>
<polygon points="297.9,221.0 316.9,221.8 306.6,235.3" fill="url(#k2)" stroke="url(#k2)" stroke-width="9" stroke-linejoin="round"/>
<polygon points="388.3,234.7 371.2,229.5 385.1,219.5" fill="url(#k4)" stroke="url(#k4)" stroke-width="9" stroke-linejoin="round"/>
<polygon points="308.3,237.9 292.0,226.2 312.1,220.1" fill="url(#k6)" stroke="url(#k6)" stroke-width="9" stroke-linejoin="round"/>
<polygon points="444.7,217.5 457.0,233.0 435.0,234.3" fill="url(#k7)" stroke="url(#k7)" stroke-width="9" stroke-linejoin="round"/>
<polygon points="414.4,218.6 420.4,236.2 399.5,231.8" fill="url(#k7)" stroke="url(#k7)" stroke-width="9" stroke-linejoin="round"/>
<polygon points="222.6,241.9 201.7,226.5 227.8,218.8" fill="url(#k4)" stroke="url(#k4)" stroke-width="9" stroke-linejoin="round"/>
<polygon points="615.8,236.7 597.2,231.4 611.9,220.4" fill="url(#k7)" stroke="url(#k7)" stroke-width="9" stroke-linejoin="round"/>
<polygon points="504.6,219.7 499.2,242.2 478.9,227.0" fill="url(#k7)" stroke="url(#k7)" stroke-width="9" stroke-linejoin="round"/>
<polygon points="661.8,242.6 649.5,224.5 674.1,224.5" fill="url(#k6)" stroke="url(#k6)" stroke-width="9" stroke-linejoin="round"/>
<polygon points="601.8,221.5 618.4,231.4 600.1,238.7" fill="url(#k2)" stroke="url(#k2)" stroke-width="9" stroke-linejoin="round"/>
<polygon points="185.8,240.1 166.5,230.6 185.8,221.1" fill="url(#k7)" stroke="url(#k7)" stroke-width="9" stroke-linejoin="round"/>
<polygon points="413.3,241.3 414.3,220.4 435.1,231.5" fill="url(#k7)" stroke="url(#k7)" stroke-width="9" stroke-linejoin="round"/>
<polygon points="470.7,225.8 460.1,242.6 448.3,226.3" fill="url(#k6)" stroke="url(#k6)" stroke-width="9" stroke-linejoin="round"/>
<polygon points="474.6,222.2 482.2,237.3 463.1,235.3" fill="url(#k3)" stroke="url(#k3)" stroke-width="9" stroke-linejoin="round"/>
<polygon points="288.7,231.5 268.9,241.6 268.5,222.0" fill="url(#k7)" stroke="url(#k7)" stroke-width="9" stroke-linejoin="round"/>
<polygon points="562.0,237.1 537.2,238.8 547.8,219.7" fill="url(#k4)" stroke="url(#k4)" stroke-width="9" stroke-linejoin="round"/>
<polygon points="224.2,236.4 205.0,237.0 213.9,222.6" fill="url(#k6)" stroke="url(#k6)" stroke-width="9" stroke-linejoin="round"/>
<polygon points="263.7,227.0 248.4,245.5 237.1,225.0" fill="url(#k3)" stroke="url(#k3)" stroke-width="9" stroke-linejoin="round"/>
<polygon points="583.7,240.9 585.4,223.3 602.5,233.4" fill="url(#k1)" stroke="url(#k1)" stroke-width="9" stroke-linejoin="round"/>
<polygon points="402.2,226.7 395.1,243.9 381.1,230.1" fill="url(#k3)" stroke="url(#k3)" stroke-width="9" stroke-linejoin="round"/>
<polygon points="364.0,223.1 382.7,235.6 360.6,243.1" fill="url(#k7)" stroke="url(#k7)" stroke-width="9" stroke-linejoin="round"/>
<polygon points="276.5,239.2 283.7,225.7 293.9,237.7" fill="url(#k7)" stroke="url(#k7)" stroke-width="9" stroke-linejoin="round"/>
<polygon points="182.3,242.1 189.8,223.8 204.7,238.5" fill="url(#k2)" stroke="url(#k2)" stroke-width="9" stroke-linejoin="round"/>
<polygon points="366.0,242.8 375.9,222.6 391.5,239.9" fill="url(#k1)" stroke="url(#k1)" stroke-width="9" stroke-linejoin="round"/>
<polygon points="250.5,231.7 238.2,245.9 229.8,229.7" fill="url(#k7)" stroke="url(#k7)" stroke-width="9" stroke-linejoin="round"/>
<polygon points="541.9,243.3 549.9,226.5 563.0,240.8" fill="url(#k3)" stroke="url(#k3)" stroke-width="9" stroke-linejoin="round"/>
<polygon points="216.9,229.6 219.8,246.4 201.2,240.2" fill="url(#k4)" stroke="url(#k4)" stroke-width="9" stroke-linejoin="round"/>
<polygon points="674.1,242.8 655.3,244.4 663.1,229.7" fill="url(#k2)" stroke="url(#k2)" stroke-width="9" stroke-linejoin="round"/>
<polygon points="218.8,237.1 203.4,248.4 199.6,231.4" fill="url(#k1)" stroke="url(#k1)" stroke-width="9" stroke-linejoin="round"/>
<polygon points="104.1,237.1 87.9,250.2 82.6,231.8" fill="url(#k3)" stroke="url(#k3)" stroke-width="9" stroke-linejoin="round"/>
<polygon points="261.0,229.6 284.1,238.6 263.4,251.1" fill="url(#k6)" stroke="url(#k6)" stroke-width="9" stroke-linejoin="round"/>
<polygon points="647.2,238.8 630.0,250.9 626.3,232.3" fill="url(#k3)" stroke="url(#k3)" stroke-width="9" stroke-linejoin="round"/>
<polygon points="363.8,234.8 351.0,254.0 337.9,235.0" fill="url(#k7)" stroke="url(#k7)" stroke-width="9" stroke-linejoin="round"/>
<polygon points="419.3,231.1 422.0,250.8 400.7,242.9" fill="url(#k5)" stroke="url(#k5)" stroke-width="9" stroke-linejoin="round"/>
<polygon points="634.3,255.7 629.7,234.2 653.8,241.6" fill="url(#k4)" stroke="url(#k4)" stroke-width="9" stroke-linejoin="round"/>
<polygon points="114.8,233.7 139.0,242.7 117.7,256.0" fill="url(#k3)" stroke="url(#k3)" stroke-width="9" stroke-linejoin="round"/>
<polygon points="280.0,250.0 293.4,232.3 304.8,250.9" fill="url(#k6)" stroke="url(#k6)" stroke-width="9" stroke-linejoin="round"/>
<polygon points="449.7,251.2 423.7,251.1 436.8,232.0" fill="url(#k7)" stroke="url(#k7)" stroke-width="9" stroke-linejoin="round"/>
<polygon points="351.1,235.8 355.4,252.5 336.3,247.3" fill="url(#k2)" stroke="url(#k2)" stroke-width="9" stroke-linejoin="round"/>
<polygon points="380.1,252.8 391.3,232.3 406.6,250.8" fill="url(#k7)" stroke="url(#k7)" stroke-width="9" stroke-linejoin="round"/>
<polygon points="568.7,233.5 585.2,251.3 558.8,254.5" fill="url(#k2)" stroke="url(#k2)" stroke-width="9" stroke-linejoin="round"/>
<polygon points="482.8,253.4 461.6,251.3 474.3,236.8" fill="url(#k6)" stroke="url(#k6)" stroke-width="9" stroke-linejoin="round"/>
<polygon points="579.4,236.5 578.6,258.5 556.6,246.9" fill="url(#k7)" stroke="url(#k7)" stroke-width="9" stroke-linejoin="round"/>
<polygon points="221.5,244.1 211.4,258.4 201.9,243.9" fill="url(#k2)" stroke="url(#k2)" stroke-width="9" stroke-linejoin="round"/>
<polygon points="223.4,239.1 236.3,253.3 215.3,255.7" fill="url(#k7)" stroke="url(#k7)" stroke-width="9" stroke-linejoin="round"/>
<polygon points="173.5,243.4 162.5,261.3 149.7,244.2" fill="url(#k4)" stroke="url(#k4)" stroke-width="9" stroke-linejoin="round"/>
<polygon points="434.2,252.1 449.5,240.4 453.8,257.5" fill="url(#k7)" stroke="url(#k7)" stroke-width="9" stroke-linejoin="round"/>
<polygon points="116.4,244.1 135.7,252.1 117.9,262.3" fill="url(#k3)" stroke="url(#k3)" stroke-width="9" stroke-linejoin="round"/>
<polygon points="116.5,260.3 92.0,258.1 106.5,241.2" fill="url(#k1)" stroke="url(#k1)" stroke-width="9" stroke-linejoin="round"/>
<polygon points="513.5,260.5 495.2,257.3 507.6,245.5" fill="url(#k4)" stroke="url(#k4)" stroke-width="9" stroke-linejoin="round"/>
<polygon points="196.1,261.1 202.3,245.9 214.6,258.0" fill="url(#k6)" stroke="url(#k6)" stroke-width="9" stroke-linejoin="round"/>
<polygon points="331.2,252.6 318.5,264.0 313.3,249.0" fill="url(#k2)" stroke="url(#k2)" stroke-width="9" stroke-linejoin="round"/>
<polygon points="679.7,244.8 686.2,264.9 662.4,259.6" fill="url(#k2)" stroke="url(#k2)" stroke-width="9" stroke-linejoin="round"/>
<polygon points="306.6,250.2 301.1,265.8 288.0,254.0" fill="url(#k6)" stroke="url(#k6)" stroke-width="9" stroke-linejoin="round"/>
<polygon points="540.3,266.4 542.4,246.4 561.7,258.0" fill="url(#k7)" stroke="url(#k7)" stroke-width="9" stroke-linejoin="round"/>
<polygon points="640.9,267.1 638.0,249.4 657.5,256.1" fill="url(#k1)" stroke="url(#k1)" stroke-width="9" stroke-linejoin="round"/>
<polygon points="577.9,268.6 559.0,256.5 580.8,248.6" fill="url(#k5)" stroke="url(#k5)" stroke-width="9" stroke-linejoin="round"/>
<polygon points="335.8,250.3 356.5,255.5 340.8,268.2" fill="url(#k7)" stroke="url(#k7)" stroke-width="9" stroke-linejoin="round"/>
<polygon points="403.8,263.7 380.0,266.6 388.9,247.6" fill="url(#k3)" stroke="url(#k3)" stroke-width="9" stroke-linejoin="round"/>
<polygon points="402.6,251.2 399.5,270.6 381.2,258.6" fill="url(#k7)" stroke="url(#k7)" stroke-width="9" stroke-linejoin="round"/>
<polygon points="538.7,252.0 546.3,265.3 528.9,264.2" fill="url(#k7)" stroke="url(#k7)" stroke-width="9" stroke-linejoin="round"/>
<polygon points="275.6,269.1 271.0,254.7 288.1,258.5" fill="url(#k2)" stroke="url(#k2)" stroke-width="9" stroke-linejoin="round"/>
<polygon points="399.1,259.5 379.2,274.7 373.7,252.4" fill="url(#k7)" stroke="url(#k7)" stroke-width="9" stroke-linejoin="round"/>
<polygon points="554.5,254.2 557.2,269.0 540.8,263.6" fill="url(#k2)" stroke="url(#k2)" stroke-width="9" stroke-linejoin="round"/>
<polygon points="122.9,261.9 102.3,274.2 100.1,252.9" fill="url(#k2)" stroke="url(#k2)" stroke-width="9" stroke-linejoin="round"/>
<polygon points="89.7,252.5 108.5,264.4 87.0,272.3" fill="url(#k6)" stroke="url(#k6)" stroke-width="9" stroke-linejoin="round"/>
<polygon points="464.7,272.2 467.4,254.3 484.4,265.2" fill="url(#k1)" stroke="url(#k1)" stroke-width="9" stroke-linejoin="round"/>
<polygon points="490.0,253.5 504.9,268.3 482.4,271.9" fill="url(#k7)" stroke="url(#k7)" stroke-width="9" stroke-linejoin="round"/>
<polygon points="133.8,259.3 129.7,274.1 116.7,263.7" fill="url(#k2)" stroke="url(#k2)" stroke-width="9" stroke-linejoin="round"/>
<polygon points="480.8,275.3 485.1,255.2 503.4,268.4" fill="url(#k7)" stroke="url(#k7)" stroke-width="9" stroke-linejoin="round"/>
<polygon points="285.8,264.4 264.5,278.6 260.7,255.9" fill="url(#k5)" stroke="url(#k5)" stroke-width="9" stroke-linejoin="round"/>
<polygon points="459.4,270.0 476.4,255.3 482.8,275.2" fill="url(#k3)" stroke="url(#k3)" stroke-width="9" stroke-linejoin="round"/>
<polygon points="623.0,280.3 606.5,261.6 633.8,258.8" fill="url(#k6)" stroke="url(#k6)" stroke-width="9" stroke-linejoin="round"/>
<polygon points="86.7,275.9 87.7,260.9 102.5,269.1" fill="url(#k4)" stroke="url(#k4)" stroke-width="9" stroke-linejoin="round"/>
<polygon points="225.9,277.5 235.2,257.3 251.2,274.2" fill="url(#k7)" stroke="url(#k7)" stroke-width="9" stroke-linejoin="round"/>
<polygon points="403.5,264.3 430.8,262.0 419.4,283.2" fill="url(#k2)" stroke="url(#k2)" stroke-width="9" stroke-linejoin="round"/>
<polygon points="178.0,283.3 170.4,260.8 197.1,266.4" fill="url(#k2)" stroke="url(#k2)" stroke-width="9" stroke-linejoin="round"/>
<polygon points="260.1,281.3 236.7,270.9 259.0,258.9" fill="url(#k2)" stroke="url(#k2)" stroke-width="9" stroke-linejoin="round"/>
<polygon points="161.3,280.1 146.3,268.9 165.1,263.4" fill="url(#k6)" stroke="url(#k6)" stroke-width="9" stroke-linejoin="round"/>
<polygon points="377.6,264.7 370.8,281.2 357.4,268.0" fill="url(#k7)" stroke="url(#k7)" stroke-width="9" stroke-linejoin="round"/>
<polygon points="99.8,261.4 105.2,278.6 85.1,274.0" fill="url(#k6)" stroke="url(#k6)" stroke-width="9" stroke-linejoin="round"/>
<polygon points="201.0,275.6 182.5,277.6 189.7,263.0" fill="url(#k2)" stroke="url(#k2)" stroke-width="9" stroke-linejoin="round"/>
<polygon points="274.1,280.5 262.0,269.9 278.8,266.2" fill="url(#k4)" stroke="url(#k4)" stroke-width="9" stroke-linejoin="round"/>
<polygon points="532.4,265.1 532.9,280.5 516.9,273.2" fill="url(#k1)" stroke="url(#k1)" stroke-width="9" stroke-linejoin="round"/>
<polygon points="399.7,277.0 375.0,281.0 383.2,260.8" fill="url(#k2)" stroke="url(#k2)" stroke-width="9" stroke-linejoin="round"/>
<polygon points="500.4,283.6 497.6,264.2 518.8,271.8" fill="url(#k5)" stroke="url(#k5)" stroke-width="9" stroke-linejoin="round"/>
<polygon points="618.4,278.1 633.5,261.9 642.5,281.1" fill="url(#k5)" stroke="url(#k5)" stroke-width="9" stroke-linejoin="round"/>
<polygon points="502.9,262.8 513.6,280.4 490.3,279.5" fill="url(#k7)" stroke="url(#k7)" stroke-width="9" stroke-linejoin="round"/>
<polygon points="528.8,267.8 517.6,286.8 503.8,269.0" fill="url(#k7)" stroke="url(#k7)" stroke-width="9" stroke-linejoin="round"/>
<polygon points="296.4,276.2 276.2,282.9 279.5,264.7" fill="url(#k1)" stroke="url(#k1)" stroke-width="9" stroke-linejoin="round"/>
<polygon points="552.3,275.3 528.2,286.6 528.8,263.1" fill="url(#k4)" stroke="url(#k4)" stroke-width="9" stroke-linejoin="round"/>
<polygon points="477.5,264.3 482.3,284.9 458.9,278.1" fill="url(#k4)" stroke="url(#k4)" stroke-width="9" stroke-linejoin="round"/>
<polygon points="419.2,268.4 419.4,284.5 402.9,276.5" fill="url(#k3)" stroke="url(#k3)" stroke-width="9" stroke-linejoin="round"/>
<polygon points="554.4,272.6 542.5,286.6 534.2,270.8" fill="url(#k4)" stroke="url(#k4)" stroke-width="9" stroke-linejoin="round"/>
<polygon points="502.2,285.8 498.8,269.2 517.4,275.0" fill="url(#k4)" stroke="url(#k4)" stroke-width="9" stroke-linejoin="round"/>
<polygon points="330.1,285.5 334.8,265.9 352.4,279.2" fill="url(#k3)" stroke="url(#k3)" stroke-width="9" stroke-linejoin="round"/>
<polygon points="93.4,264.9 100.0,286.0 75.1,280.3" fill="url(#k7)" stroke="url(#k7)" stroke-width="9" stroke-linejoin="round"/>
<polygon points="315.3,288.2 307.1,270.2 329.5,273.1" fill="url(#k1)" stroke="url(#k1)" stroke-width="9" stroke-linejoin="round"/>
<polygon points="640.6,288.0 633.9,270.1 655.4,274.1" fill="url(#k1)" stroke="url(#k1)" stroke-width="9" stroke-linejoin="round"/>
<polygon points="544.3,288.5 533.3,276.7 550.8,274.5" fill="url(#k7)" stroke="url(#k7)" stroke-width="9" stroke-linejoin="round"/>
<polygon points="139.8,288.7 145.1,268.8 162.7,282.7" fill="url(#k2)" stroke="url(#k2)" stroke-width="9" stroke-linejoin="round"/>
<polygon points="306.8,287.5 284.3,284.1 299.0,269.2" fill="url(#k7)" stroke="url(#k7)" stroke-width="9" stroke-linejoin="round"/>
<polygon points="346.2,289.4 321.0,283.9 339.2,268.0" fill="url(#k2)" stroke="url(#k2)" stroke-width="9" stroke-linejoin="round"/>
<polygon points="201.4,286.3 213.8,268.7 225.5,286.7" fill="url(#k5)" stroke="url(#k5)" stroke-width="9" stroke-linejoin="round"/>
<polygon points="92.1,290.2 87.1,273.8 106.3,278.3" fill="url(#k3)" stroke="url(#k3)" stroke-width="9" stroke-linejoin="round"/>
<polygon points="428.8,276.3 450.4,274.6 441.3,291.4" fill="url(#k2)" stroke="url(#k2)" stroke-width="9" stroke-linejoin="round"/>
<polygon points="404.8,270.5 414.9,288.3 391.7,286.8" fill="url(#k6)" stroke="url(#k6)" stroke-width="9" stroke-linejoin="round"/>
<polygon points="591.8,287.5 605.2,271.0 615.3,289.1" fill="url(#k5)" stroke="url(#k5)" stroke-width="9" stroke-linejoin="round"/>
<polygon points="637.7,273.0 655.7,283.5 636.0,291.5" fill="url(#k2)" stroke="url(#k2)" stroke-width="9" stroke-linejoin="round"/>
<polygon points="621.2,278.9 644.1,276.0 635.5,294.3" fill="url(#k3)" stroke="url(#k3)" stroke-width="9" stroke-linejoin="round"/>
<polygon points="228.9,275.6 254.9,278.4 239.1,296.1" fill="url(#k3)" stroke="url(#k3)" stroke-width="9" stroke-linejoin="round"/>
<polygon points="81.1,291.1 84.7,275.2 99.1,285.8" fill="url(#k3)" stroke="url(#k3)" stroke-width="9" stroke-linejoin="round"/>
<polygon points="134.5,290.6 109.0,290.5 121.9,271.8" fill="url(#k2)" stroke="url(#k2)" stroke-width="9" stroke-linejoin="round"/>
<polygon points="406.5,295.0 392.7,281.0 413.9,277.8" fill="url(#k2)" stroke="url(#k2)" stroke-width="9" stroke-linejoin="round"/>
<polygon points="496.6,291.0 478.5,287.5 491.0,276.0" fill="url(#k3)" stroke="url(#k3)" stroke-width="9" stroke-linejoin="round"/>
<polygon points="197.8,294.3 183.9,283.2 202.2,278.5" fill="url(#k3)" stroke="url(#k3)" stroke-width="9" stroke-linejoin="round"/>
<polygon points="344.1,292.6 317.1,292.6 330.6,272.7" fill="url(#k3)" stroke="url(#k3)" stroke-width="9" stroke-linejoin="round"/>
<polygon points="93.7,281.5 116.3,279.7 106.8,297.2" fill="url(#k2)" stroke="url(#k2)" stroke-width="9" stroke-linejoin="round"/>
<polygon points="225.9,288.5 240.2,276.9 245.0,293.2" fill="url(#k3)" stroke="url(#k3)" stroke-width="9" stroke-linejoin="round"/>
<polygon points="112.9,288.1 134.2,276.2 135.7,297.8" fill="url(#k3)" stroke="url(#k3)" stroke-width="9" stroke-linejoin="round"/>
<polygon points="326.8,288.3 349.4,275.5 351.1,298.5" fill="url(#k5)" stroke="url(#k5)" stroke-width="9" stroke-linejoin="round"/>
<polygon points="546.7,295.9 532.3,286.4 549.2,280.5" fill="url(#k4)" stroke="url(#k4)" stroke-width="9" stroke-linejoin="round"/>
<polygon points="343.2,292.0 363.1,276.6 368.9,298.9" fill="url(#k6)" stroke="url(#k6)" stroke-width="9" stroke-linejoin="round"/>
<polygon points="525.7,288.8 506.8,299.9 504.9,280.4" fill="url(#k2)" stroke="url(#k2)" stroke-width="9" stroke-linejoin="round"/>
<polygon points="379.0,300.8 372.8,283.6 393.4,287.6" fill="url(#k7)" stroke="url(#k7)" stroke-width="9" stroke-linejoin="round"/>
<polygon points="162.3,284.5 181.0,288.0 168.1,300.0" fill="url(#k2)" stroke="url(#k2)" stroke-width="9" stroke-linejoin="round"/>
<polygon points="392.2,301.7 379.8,287.4 400.6,285.4" fill="url(#k6)" stroke="url(#k6)" stroke-width="9" stroke-linejoin="round"/>
<polygon points="236.8,292.2 256.2,282.0 256.9,301.4" fill="url(#k2)" stroke="url(#k2)" stroke-width="9" stroke-linejoin="round"/>
<polygon points="647.5,284.7 663.1,291.6 648.3,299.6" fill="url(#k7)" stroke="url(#k7)" stroke-width="9" stroke-linejoin="round"/>
<polygon points="645.6,288.0 664.9,288.2 655.2,302.3" fill="url(#k4)" stroke="url(#k4)" stroke-width="9" stroke-linejoin="round"/>
<polygon points="223.0,300.1 229.6,282.8 244.0,296.3" fill="url(#k7)" stroke="url(#k7)" stroke-width="9" stroke-linejoin="round"/>
<polygon points="517.6,283.4 522.9,300.3 503.1,295.8" fill="url(#k1)" stroke="url(#k1)" stroke-width="9" stroke-linejoin="round"/>
<polygon points="598.7,301.9 605.9,282.6 622.0,297.5" fill="url(#k6)" stroke="url(#k6)" stroke-width="9" stroke-linejoin="round"/>
<polygon points="391.2,291.9 409.8,287.1 405.5,303.2" fill="url(#k6)" stroke="url(#k6)" stroke-width="9" stroke-linejoin="round"/>
<polygon points="88.4,301.7 95.1,286.0 107.8,298.8" fill="url(#k4)" stroke="url(#k4)" stroke-width="9" stroke-linejoin="round"/>
<polygon points="462.4,288.0 486.4,293.2 469.1,308.3" fill="url(#k1)" stroke="url(#k1)" stroke-width="9" stroke-linejoin="round"/>
<polygon points="609.2,294.4 630.0,289.4 624.7,307.3" fill="url(#k5)" stroke="url(#k5)" stroke-width="9" stroke-linejoin="round"/>
<polygon points="319.1,308.4 316.9,287.4 339.4,296.2" fill="url(#k7)" stroke="url(#k7)" stroke-width="9" stroke-linejoin="round"/>
<polygon points="161.2,293.7 185.4,289.8 177.3,309.5" fill="url(#k7)" stroke="url(#k7)" stroke-width="9" stroke-linejoin="round"/>
<polygon points="127.0,287.0 126.3,308.9 104.3,297.5" fill="url(#k4)" stroke="url(#k4)" stroke-width="9" stroke-linejoin="round"/>
<polygon points="324.8,305.5 305.3,299.8 320.9,288.3" fill="url(#k5)" stroke="url(#k5)" stroke-width="9" stroke-linejoin="round"/>
<polygon points="284.3,310.1 274.6,291.2 298.6,293.5" fill="url(#k7)" stroke="url(#k7)" stroke-width="9" stroke-linejoin="round"/>
<polygon points="404.6,288.6 405.0,307.7 385.3,298.5" fill="url(#k6)" stroke="url(#k6)" stroke-width="9" stroke-linejoin="round"/>
<polygon points="526.6,297.7 549.5,287.8 548.1,309.7" fill="url(#k1)" stroke="url(#k1)" stroke-width="9" stroke-linejoin="round"/>
<polygon points="179.2,285.1 194.9,304.5 167.4,306.3" fill="url(#k6)" stroke="url(#k6)" stroke-width="9" stroke-linejoin="round"/>
<polygon points="117.4,310.4 115.7,290.6 136.7,299.2" fill="url(#k5)" stroke="url(#k5)" stroke-width="9" stroke-linejoin="round"/>
<polygon points="226.7,295.8 210.2,312.6 201.3,292.1" fill="url(#k7)" stroke="url(#k7)" stroke-width="9" stroke-linejoin="round"/>
<polygon points="692.6,303.1 667.1,312.3 670.5,288.9" fill="url(#k2)" stroke="url(#k2)" stroke-width="9" stroke-linejoin="round"/>
<polygon points="91.5,297.6 116.2,296.2 105.3,315.1" fill="url(#k2)" stroke="url(#k2)" stroke-width="9" stroke-linejoin="round"/>
<polygon points="169.6,306.8 187.3,290.9 194.6,311.9" fill="url(#k4)" stroke="url(#k4)" stroke-width="9" stroke-linejoin="round"/>
<polygon points="547.3,308.8 525.5,311.1 534.1,293.9" fill="url(#k4)" stroke="url(#k4)" stroke-width="9" stroke-linejoin="round"/>
<polygon points="158.7,304.3 179.6,298.1 175.5,316.5" fill="url(#k5)" stroke="url(#k5)" stroke-width="9" stroke-linejoin="round"/>
<polygon points="432.7,320.9 415.1,302.9 442.3,298.9" fill="url(#k3)" stroke="url(#k3)" stroke-width="9" stroke-linejoin="round"/>
<polygon points="423.0,312.6 405.1,314.0 412.5,300.1" fill="url(#k5)" stroke="url(#k5)" stroke-width="9" stroke-linejoin="round"/>
<polygon points="307.2,302.5 299.3,320.7 284.7,305.8" fill="url(#k7)" stroke="url(#k7)" stroke-width="9" stroke-linejoin="round"/>
<polygon points="636.2,298.1 646.4,316.5 622.5,314.8" fill="url(#k2)" stroke="url(#k2)" stroke-width="9" stroke-linejoin="round"/>
<polygon points="495.4,301.5 507.8,312.3 490.5,316.0" fill="url(#k2)" stroke="url(#k2)" stroke-width="9" stroke-linejoin="round"/>
<polygon points="254.2,317.7 260.0,299.8 275.3,313.0" fill="url(#k4)" stroke="url(#k4)" stroke-width="9" stroke-linejoin="round"/>
<polygon points="213.5,323.1 200.9,303.8 226.8,304.1" fill="url(#k3)" stroke="url(#k3)" stroke-width="9" stroke-linejoin="round"/>
<polygon points="614.0,316.2 587.4,317.8 599.0,297.4" fill="url(#k7)" stroke="url(#k7)" stroke-width="9" stroke-linejoin="round"/>
<polygon points="335.9,309.3 315.7,322.1 312.7,300.8" fill="url(#k4)" stroke="url(#k4)" stroke-width="9" stroke-linejoin="round"/>
<polygon points="660.1,300.8 672.5,317.0 649.8,318.0" fill="url(#k6)" stroke="url(#k6)" stroke-width="9" stroke-linejoin="round"/>
<polygon points="331.6,310.5 349.3,306.4 344.6,321.5" fill="url(#k2)" stroke="url(#k2)" stroke-width="9" stroke-linejoin="round"/>
<polygon points="270.9,323.0 266.9,305.0 287.3,311.0" fill="url(#k7)" stroke="url(#k7)" stroke-width="9" stroke-linejoin="round"/>
<polygon points="639.0,309.9 665.5,305.2 657.1,327.1" fill="url(#k2)" stroke="url(#k2)" stroke-width="9" stroke-linejoin="round"/>
<polygon points="319.6,324.3 307.0,310.4 327.4,308.1" fill="url(#k6)" stroke="url(#k6)" stroke-width="9" stroke-linejoin="round"/>
<polygon points="206.6,302.1 222.9,319.8 196.7,323.0" fill="url(#k3)" stroke="url(#k3)" stroke-width="9" stroke-linejoin="round"/>
<polygon points="177.2,306.1 179.0,324.5 159.4,316.6" fill="url(#k4)" stroke="url(#k4)" stroke-width="9" stroke-linejoin="round"/>
<polygon points="214.0,309.7 208.4,325.4 195.2,313.4" fill="url(#k1)" stroke="url(#k1)" stroke-width="9" stroke-linejoin="round"/>
<polygon points="88.6,324.7 92.6,306.1 109.5,318.3" fill="url(#k5)" stroke="url(#k5)" stroke-width="9" stroke-linejoin="round"/>
<polygon points="448.6,327.9 428.9,314.7 452.3,306.7" fill="url(#k3)" stroke="url(#k3)" stroke-width="9" stroke-linejoin="round"/>
<polygon points="94.1,306.7 107.6,321.9 85.4,324.2" fill="url(#k4)" stroke="url(#k4)" stroke-width="9" stroke-linejoin="round"/>
<polygon points="475.2,309.4 472.7,328.7 454.3,317.2" fill="url(#k6)" stroke="url(#k6)" stroke-width="9" stroke-linejoin="round"/>
<polygon points="439.7,327.9 444.4,307.5 462.8,321.1" fill="url(#k7)" stroke="url(#k7)" stroke-width="9" stroke-linejoin="round"/>
<polygon points="261.9,318.0 247.2,327.2 245.2,311.7" fill="url(#k5)" stroke="url(#k5)" stroke-width="9" stroke-linejoin="round"/>
<polygon points="119.2,323.5 134.6,313.2 137.4,329.7" fill="url(#k3)" stroke="url(#k3)" stroke-width="9" stroke-linejoin="round"/>
<polygon points="326.0,329.1 305.7,325.4 319.6,312.3" fill="url(#k3)" stroke="url(#k3)" stroke-width="9" stroke-linejoin="round"/>
<polygon points="374.1,314.8 396.3,319.8 380.1,333.7" fill="url(#k6)" stroke="url(#k6)" stroke-width="9" stroke-linejoin="round"/>
<polygon points="283.6,329.3 288.7,314.2 301.5,325.5" fill="url(#k6)" stroke="url(#k6)" stroke-width="9" stroke-linejoin="round"/>
<polygon points="363.3,313.8 375.9,326.5 356.7,329.4" fill="url(#k2)" stroke="url(#k2)" stroke-width="9" stroke-linejoin="round"/>
<polygon points="423.4,313.7 425.3,332.8 404.9,324.7" fill="url(#k4)" stroke="url(#k4)" stroke-width="9" stroke-linejoin="round"/>
<polygon points="510.9,317.1 507.0,332.4 493.3,321.8" fill="url(#k2)" stroke="url(#k2)" stroke-width="9" stroke-linejoin="round"/>
<polygon points="384.2,315.1 399.8,324.8 382.2,331.5" fill="url(#k7)" stroke="url(#k7)" stroke-width="9" stroke-linejoin="round"/>
<polygon points="216.5,322.9 235.1,316.6 232.2,333.5" fill="url(#k3)" stroke="url(#k3)" stroke-width="9" stroke-linejoin="round"/>
<polygon points="649.5,317.0 667.0,326.1 648.9,334.4" fill="url(#k7)" stroke="url(#k7)" stroke-width="9" stroke-linejoin="round"/>
<polygon points="410.9,313.4 420.5,334.7 394.0,331.1" fill="url(#k3)" stroke="url(#k3)" stroke-width="9" stroke-linejoin="round"/>
<polygon points="644.4,319.7 636.6,337.1 622.8,322.6" fill="url(#k4)" stroke="url(#k4)" stroke-width="9" stroke-linejoin="round"/>
<polygon points="431.9,337.2 431.6,320.0 449.4,328.3" fill="url(#k6)" stroke="url(#k6)" stroke-width="9" stroke-linejoin="round"/>
<polygon points="533.0,323.7 524.7,340.0 512.2,325.8" fill="url(#k2)" stroke="url(#k2)" stroke-width="9" stroke-linejoin="round"/>
<polygon points="608.9,323.6 629.1,326.3 616.3,339.8" fill="url(#k5)" stroke="url(#k5)" stroke-width="9" stroke-linejoin="round"/>
<polygon points="267.7,343.2 249.6,326.3 275.9,321.5" fill="url(#k7)" stroke="url(#k7)" stroke-width="9" stroke-linejoin="round"/>
<polygon points="496.4,336.1 505.8,321.2 516.3,335.5" fill="url(#k2)" stroke="url(#k2)" stroke-width="9" stroke-linejoin="round"/>
<polygon points="422.7,333.5 403.9,339.7 406.9,322.8" fill="url(#k6)" stroke="url(#k6)" stroke-width="9" stroke-linejoin="round"/>
<polygon points="199.2,341.5 196.3,323.9 215.6,330.6" fill="url(#k1)" stroke="url(#k1)" stroke-width="9" stroke-linejoin="round"/>
<polygon points="392.9,325.6 384.4,344.5 369.4,328.9" fill="url(#k7)" stroke="url(#k7)" stroke-width="9" stroke-linejoin="round"/>
<polygon points="146.4,344.0 126.1,332.0 148.4,323.1" fill="url(#k4)" stroke="url(#k4)" stroke-width="9" stroke-linejoin="round"/>
<polygon points="357.7,327.9 379.6,328.0 368.5,344.1" fill="url(#k6)" stroke="url(#k6)" stroke-width="9" stroke-linejoin="round"/>
<polygon points="424.3,339.8 405.3,337.5 417.1,324.7" fill="url(#k2)" stroke="url(#k2)" stroke-width="9" stroke-linejoin="round"/>
<polygon points="368.3,334.1 385.5,326.7 384.4,343.1" fill="url(#k7)" stroke="url(#k7)" stroke-width="9" stroke-linejoin="round"/>
<polygon points="186.7,339.3 202.6,322.4 211.9,342.5" fill="url(#k1)" stroke="url(#k1)" stroke-width="9" stroke-linejoin="round"/>
<polygon points="610.4,332.1 595.0,346.4 588.2,327.9" fill="url(#k2)" stroke="url(#k2)" stroke-width="9" stroke-linejoin="round"/>
<polygon points="127.0,339.6 141.2,324.7 149.3,342.6" fill="url(#k1)" stroke="url(#k1)" stroke-width="9" stroke-linejoin="round"/>
<polygon points="638.0,323.6 655.7,339.3 630.9,344.5" fill="url(#k7)" stroke="url(#k7)" stroke-width="9" stroke-linejoin="round"/>
<polygon points="130.6,332.9 151.3,330.2 143.7,346.8" fill="url(#k5)" stroke="url(#k5)" stroke-width="9" stroke-linejoin="round"/>
<polygon points="422.0,341.9 437.6,325.0 446.9,344.9" fill="url(#k6)" stroke="url(#k6)" stroke-width="9" stroke-linejoin="round"/>
<polygon points="472.9,347.7 468.2,329.5 489.1,335.1" fill="url(#k7)" stroke="url(#k7)" stroke-width="9" stroke-linejoin="round"/>
<polygon points="620.2,350.5 609.4,330.8 634.9,332.7" fill="url(#k2)" stroke="url(#k2)" stroke-width="9" stroke-linejoin="round"/>
<polygon points="491.6,346.9 469.7,340.0 487.7,327.3" fill="url(#k1)" stroke="url(#k1)" stroke-width="9" stroke-linejoin="round"/>
<polygon points="602.0,346.6 600.0,331.5 616.4,337.6" fill="url(#k2)" stroke="url(#k2)" stroke-width="9" stroke-linejoin="round"/>
<polygon points="209.8,335.7 198.8,347.5 192.3,333.5" fill="url(#k6)" stroke="url(#k6)" stroke-width="9" stroke-linejoin="round"/>
<polygon points="210.5,338.0 190.0,350.4 187.6,329.1" fill="url(#k6)" stroke="url(#k6)" stroke-width="9" stroke-linejoin="round"/>
<polygon points="549.8,349.5 547.4,330.3 568.1,338.0" fill="url(#k3)" stroke="url(#k3)" stroke-width="9" stroke-linejoin="round"/>
<polygon points="255.7,347.0 234.7,341.9 250.4,329.0" fill="url(#k4)" stroke="url(#k4)" stroke-width="9" stroke-linejoin="round"/>
<polygon points="451.8,328.5 461.2,345.8 438.8,344.2" fill="url(#k4)" stroke="url(#k4)" stroke-width="9" stroke-linejoin="round"/>
<polygon points="444.8,335.9 433.1,350.4 424.1,334.5" fill="url(#k4)" stroke="url(#k4)" stroke-width="9" stroke-linejoin="round"/>
<polygon points="283.5,333.0 305.8,336.7 290.9,351.3" fill="url(#k7)" stroke="url(#k7)" stroke-width="9" stroke-linejoin="round"/>
<polygon points="281.8,350.0 273.2,334.9 292.9,336.1" fill="url(#k7)" stroke="url(#k7)" stroke-width="9" stroke-linejoin="round"/>
<polygon points="520.0,334.0 514.2,351.0 499.8,338.2" fill="url(#k3)" stroke="url(#k3)" stroke-width="9" stroke-linejoin="round"/>
<polygon points="606.9,337.5 598.0,350.4 589.3,337.5" fill="url(#k7)" stroke="url(#k7)" stroke-width="9" stroke-linejoin="round"/>
<polygon points="406.0,336.3 424.6,340.8 410.7,352.3" fill="url(#k7)" stroke="url(#k7)" stroke-width="9" stroke-linejoin="round"/>
<polygon points="329.9,352.9 322.8,337.7 341.8,340.1" fill="url(#k7)" stroke="url(#k7)" stroke-width="9" stroke-linejoin="round"/>
<polygon points="223.2,348.1 232.2,335.0 241.1,348.1" fill="url(#k2)" stroke="url(#k2)" stroke-width="9" stroke-linejoin="round"/>
<polygon points="609.0,337.6 623.2,347.9 605.6,353.2" fill="url(#k7)" stroke="url(#k7)" stroke-width="9" stroke-linejoin="round"/>
<polygon points="303.5,340.3 324.8,344.2 310.1,357.9" fill="url(#k6)" stroke="url(#k6)" stroke-width="9" stroke-linejoin="round"/>
<polygon points="484.9,338.9 511.9,343.2 494.1,360.9" fill="url(#k3)" stroke="url(#k3)" stroke-width="9" stroke-linejoin="round"/>
<polygon points="209.9,335.1 220.2,355.7 194.0,353.0" fill="url(#k3)" stroke="url(#k3)" stroke-width="9" stroke-linejoin="round"/>
<polygon points="601.6,352.2 583.7,357.9 586.9,341.8" fill="url(#k2)" stroke="url(#k2)" stroke-width="9" stroke-linejoin="round"/>
<polygon points="287.1,339.6 293.6,359.5 270.0,354.4" fill="url(#k6)" stroke="url(#k6)" stroke-width="9" stroke-linejoin="round"/>
<polygon points="605.4,355.0 624.1,338.2 631.9,360.3" fill="url(#k4)" stroke="url(#k4)" stroke-width="9" stroke-linejoin="round"/>
<polygon points="245.9,350.4 268.1,342.8 264.7,363.0" fill="url(#k2)" stroke="url(#k2)" stroke-width="9" stroke-linejoin="round"/>
<polygon points="376.6,361.1 358.2,353.5 375.2,343.7" fill="url(#k2)" stroke="url(#k2)" stroke-width="9" stroke-linejoin="round"/>
<polygon points="268.7,362.3 241.8,356.9 260.7,339.7" fill="url(#k4)" stroke="url(#k4)" stroke-width="9" stroke-linejoin="round"/>
<polygon points="589.3,364.2 567.2,354.9 587.7,343.3" fill="url(#k6)" stroke="url(#k6)" stroke-width="9" stroke-linejoin="round"/>
<polygon points="124.0,350.7 147.3,346.6 139.9,365.8" fill="url(#k7)" stroke="url(#k7)" stroke-width="9" stroke-linejoin="round"/>
<polygon points="199.4,356.0 181.4,362.5 183.8,346.1" fill="url(#k3)" stroke="url(#k3)" stroke-width="9" stroke-linejoin="round"/>
<polygon points="363.6,365.9 347.1,354.1 367.4,347.9" fill="url(#k2)" stroke="url(#k2)" stroke-width="9" stroke-linejoin="round"/>
<polygon points="149.0,355.7 170.7,347.4 168.3,367.5" fill="url(#k1)" stroke="url(#k1)" stroke-width="9" stroke-linejoin="round"/>
<polygon points="328.5,364.6 312.7,356.9 328.5,349.2" fill="url(#k7)" stroke="url(#k7)" stroke-width="9" stroke-linejoin="round"/>
<polygon points="520.5,359.9 536.8,347.6 541.2,365.7" fill="url(#k2)" stroke="url(#k2)" stroke-width="9" stroke-linejoin="round"/>
<polygon points="594.5,347.0 615.3,359.3 592.4,368.4" fill="url(#k6)" stroke="url(#k6)" stroke-width="9" stroke-linejoin="round"/>
<polygon points="177.6,369.6 177.9,347.0 200.8,358.4" fill="url(#k2)" stroke="url(#k2)" stroke-width="9" stroke-linejoin="round"/>
<polygon points="170.8,370.2 158.2,352.8 182.3,352.2" fill="url(#k3)" stroke="url(#k3)" stroke-width="9" stroke-linejoin="round"/>
<polygon points="228.9,352.2 219.0,370.0 205.8,353.8" fill="url(#k2)" stroke="url(#k2)" stroke-width="9" stroke-linejoin="round"/>
<polygon points="505.2,367.4 480.4,362.2 498.1,346.5" fill="url(#k5)" stroke="url(#k5)" stroke-width="9" stroke-linejoin="round"/>
<polygon points="465.3,364.2 479.9,347.8 489.4,366.8" fill="url(#k4)" stroke="url(#k4)" stroke-width="9" stroke-linejoin="round"/>
<polygon points="339.6,363.9 353.5,350.3 360.4,367.4" fill="url(#k4)" stroke="url(#k4)" stroke-width="9" stroke-linejoin="round"/>
<polygon points="665.5,361.4 644.9,370.7 645.7,350.8" fill="url(#k7)" stroke="url(#k7)" stroke-width="9" stroke-linejoin="round"/>
<polygon points="220.0,369.6 216.9,354.2 234.2,359.6" fill="url(#k2)" stroke="url(#k2)" stroke-width="9" stroke-linejoin="round"/>
<polygon points="628.5,362.1 642.5,353.2 644.6,368.0" fill="url(#k7)" stroke="url(#k7)" stroke-width="9" stroke-linejoin="round"/>
<polygon points="188.0,355.4 179.7,372.1 166.8,357.6" fill="url(#k7)" stroke="url(#k7)" stroke-width="9" stroke-linejoin="round"/>
<polygon points="254.4,371.6 247.8,355.7 267.3,358.8" fill="url(#k6)" stroke="url(#k6)" stroke-width="9" stroke-linejoin="round"/>
<polygon points="187.4,376.0 178.9,354.7 204.8,359.1" fill="url(#k1)" stroke="url(#k1)" stroke-width="9" stroke-linejoin="round"/>
<polygon points="431.8,364.2 450.3,353.7 451.7,372.6" fill="url(#k7)" stroke="url(#k7)" stroke-width="9" stroke-linejoin="round"/>
<polygon points="431.7,362.0 453.0,356.1 448.4,374.8" fill="url(#k4)" stroke="url(#k4)" stroke-width="9" stroke-linejoin="round"/>
<polygon points="525.7,366.2 500.2,374.9 504.1,351.8" fill="url(#k6)" stroke="url(#k6)" stroke-width="9" stroke-linejoin="round"/>
<polygon points="352.6,367.5 368.0,355.8 372.3,373.0" fill="url(#k6)" stroke="url(#k6)" stroke-width="9" stroke-linejoin="round"/>
<polygon points="550.8,356.7 571.4,364.5 553.2,375.7" fill="url(#k6)" stroke="url(#k6)" stroke-width="9" stroke-linejoin="round"/>
<polygon points="178.9,359.9 180.2,374.5 164.6,368.2" fill="url(#k2)" stroke="url(#k2)" stroke-width="9" stroke-linejoin="round"/>
<polygon points="434.8,371.4 445.9,358.8 453.2,373.3" fill="url(#k7)" stroke="url(#k7)" stroke-width="9" stroke-linejoin="round"/>
<polygon points="240.3,375.9 239.8,360.3 256.0,367.7" fill="url(#k1)" stroke="url(#k1)" stroke-width="9" stroke-linejoin="round"/>
<polygon points="354.9,356.4 361.6,377.3 336.9,371.8" fill="url(#k3)" stroke="url(#k3)" stroke-width="9" stroke-linejoin="round"/>
<polygon points="267.3,378.1 254.9,366.9 272.5,363.3" fill="url(#k7)" stroke="url(#k7)" stroke-width="9" stroke-linejoin="round"/>
<polygon points="165.1,378.9 151.7,369.4 168.1,364.2" fill="url(#k3)" stroke="url(#k3)" stroke-width="9" stroke-linejoin="round"/>
<polygon points="137.6,372.1 157.5,360.3 159.6,380.8" fill="url(#k1)" stroke="url(#k1)" stroke-width="9" stroke-linejoin="round"/>
<polygon points="390.9,363.9 393.2,380.7 374.9,374.0" fill="url(#k3)" stroke="url(#k3)" stroke-width="9" stroke-linejoin="round"/>
<polygon points="537.3,367.6 563.5,365.6 552.5,386.0" fill="url(#k5)" stroke="url(#k5)" stroke-width="9" stroke-linejoin="round"/>
<polygon points="498.8,362.2 522.2,373.2 499.3,385.0" fill="url(#k7)" stroke="url(#k7)" stroke-width="9" stroke-linejoin="round"/>
<polygon points="510.0,374.1 528.5,364.7 528.8,383.0" fill="url(#k2)" stroke="url(#k2)" stroke-width="9" stroke-linejoin="round"/>
<polygon points="595.0,378.3 571.3,381.7 579.7,362.6" fill="url(#k7)" stroke="url(#k7)" stroke-width="9" stroke-linejoin="round"/>
<polygon points="287.8,373.5 271.5,383.2 269.7,366.4" fill="url(#k6)" stroke="url(#k6)" stroke-width="9" stroke-linejoin="round"/>
<polygon points="157.6,385.3 158.4,363.7 180.0,375.0" fill="url(#k7)" stroke="url(#k7)" stroke-width="9" stroke-linejoin="round"/>
<polygon points="420.0,369.7 410.4,385.2 399.4,370.4" fill="url(#k2)" stroke="url(#k2)" stroke-width="9" stroke-linejoin="round"/>
<polygon points="246.8,379.2 266.4,362.9 273.3,385.5" fill="url(#k6)" stroke="url(#k6)" stroke-width="9" stroke-linejoin="round"/>
<polygon points="502.3,386.6 505.4,364.0 526.9,377.6" fill="url(#k7)" stroke="url(#k7)" stroke-width="9" stroke-linejoin="round"/>
<polygon points="612.0,367.9 626.5,381.8 605.0,385.5" fill="url(#k3)" stroke="url(#k3)" stroke-width="9" stroke-linejoin="round"/>
<polygon points="531.3,367.9 550.6,380.1 528.5,388.2" fill="url(#k7)" stroke="url(#k7)" stroke-width="9" stroke-linejoin="round"/>
<polygon points="299.0,383.1 315.6,368.0 322.8,387.8" fill="url(#k6)" stroke="url(#k6)" stroke-width="9" stroke-linejoin="round"/>
<polygon points="614.3,372.5 605.4,393.3 588.7,376.4" fill="url(#k6)" stroke="url(#k6)" stroke-width="9" stroke-linejoin="round"/>
<polygon points="462.9,377.0 481.0,378.3 470.6,390.9" fill="url(#k7)" stroke="url(#k7)" stroke-width="9" stroke-linejoin="round"/>
<polygon points="321.2,374.7 319.4,395.6 299.0,383.9" fill="url(#k3)" stroke="url(#k3)" stroke-width="9" stroke-linejoin="round"/>
<polygon points="511.4,393.9 493.2,390.8 505.4,379.0" fill="url(#k6)" stroke="url(#k6)" stroke-width="9" stroke-linejoin="round"/>
<polygon points="455.1,385.1 477.9,379.5 472.3,399.1" fill="url(#k2)" stroke="url(#k2)" stroke-width="9" stroke-linejoin="round"/>
<polygon points="319.3,378.0 337.1,391.7 314.2,397.9" fill="url(#k1)" stroke="url(#k1)" stroke-width="9" stroke-linejoin="round"/>
<polygon points="268.8,383.0 288.8,385.6 276.2,399.0" fill="url(#k7)" stroke="url(#k7)" stroke-width="9" stroke-linejoin="round"/>
<polygon points="465.6,398.6 438.4,394.6 456.0,376.6" fill="url(#k4)" stroke="url(#k4)" stroke-width="9" stroke-linejoin="round"/>
<polygon points="240.2,393.1 224.3,401.1 224.0,385.4" fill="url(#k2)" stroke="url(#k2)" stroke-width="9" stroke-linejoin="round"/>
<polygon points="531.7,389.2 557.5,387.0 546.9,407.1" fill="url(#k4)" stroke="url(#k4)" stroke-width="9" stroke-linejoin="round"/>
<polygon points="310.3,386.1 323.7,399.2 303.7,402.6" fill="url(#k3)" stroke="url(#k3)" stroke-width="9" stroke-linejoin="round"/>
<polygon points="465.7,400.7 474.5,387.5 483.5,400.6" fill="url(#k2)" stroke="url(#k2)" stroke-width="9" stroke-linejoin="round"/>
<polygon points="266.1,386.7 284.8,397.6 264.3,405.9" fill="url(#k1)" stroke="url(#k1)" stroke-width="9" stroke-linejoin="round"/>
<polygon points="569.7,394.0 592.5,389.3 585.9,408.4" fill="url(#k2)" stroke="url(#k2)" stroke-width="9" stroke-linejoin="round"/>
<polygon points="368.9,390.1 367.0,405.7 352.1,396.5" fill="url(#k2)" stroke="url(#k2)" stroke-width="9" stroke-linejoin="round"/>
<polygon points="421.0,409.5 413.2,390.4 436.5,394.2" fill="url(#k3)" stroke="url(#k3)" stroke-width="9" stroke-linejoin="round"/>
<polygon points="334.2,405.7 310.3,403.5 324.5,387.1" fill="url(#k2)" stroke="url(#k2)" stroke-width="9" stroke-linejoin="round"/>
<polygon points="248.0,398.3 272.9,391.2 267.7,413.0" fill="url(#k3)" stroke="url(#k3)" stroke-width="9" stroke-linejoin="round"/>
<polygon points="488.3,408.3 494.2,392.6 507.3,404.8" fill="url(#k2)" stroke="url(#k2)" stroke-width="9" stroke-linejoin="round"/>
<polygon points="516.3,395.0 508.6,413.8 493.2,398.8" fill="url(#k5)" stroke="url(#k5)" stroke-width="9" stroke-linejoin="round"/>
<polygon points="442.1,413.5 434.8,396.4 455.8,399.6" fill="url(#k2)" stroke="url(#k2)" stroke-width="9" stroke-linejoin="round"/>
<polygon points="253.6,410.1 268.0,400.2 270.9,415.8" fill="url(#k7)" stroke="url(#k7)" stroke-width="9" stroke-linejoin="round"/>
<polygon points="243.3,398.7 256.7,413.6 234.8,416.0" fill="url(#k3)" stroke="url(#k3)" stroke-width="9" stroke-linejoin="round"/>
<polygon points="378.4,418.7 358.8,410.5 376.9,400.2" fill="url(#k4)" stroke="url(#k4)" stroke-width="9" stroke-linejoin="round"/>
<polygon points="233.0,422.1 234.5,399.3 256.9,411.8" fill="url(#k6)" stroke="url(#k6)" stroke-width="9" stroke-linejoin="round"/>
<polygon points="305.9,417.6 288.3,419.4 295.2,405.5" fill="url(#k3)" stroke="url(#k3)" stroke-width="9" stroke-linejoin="round"/>
<polygon points="248.4,410.3 268.1,409.3 259.3,424.4" fill="url(#k2)" stroke="url(#k2)" stroke-width="9" stroke-linejoin="round"/>
<polygon points="315.4,401.9 323.5,424.2 296.7,419.0" fill="url(#k4)" stroke="url(#k4)" stroke-width="9" stroke-linejoin="round"/>
<polygon points="513.4,409.7 531.6,414.1 518.0,425.2" fill="url(#k6)" stroke="url(#k6)" stroke-width="9" stroke-linejoin="round"/>
<polygon points="369.1,421.2 383.9,408.8 389.2,425.9" fill="url(#k4)" stroke="url(#k4)" stroke-width="9" stroke-linejoin="round"/>
<polygon points="510.4,428.9 483.5,424.2 501.7,406.8" fill="url(#k6)" stroke="url(#k6)" stroke-width="9" stroke-linejoin="round"/>
<polygon points="475.2,422.1 454.7,431.7 455.1,411.8" fill="url(#k5)" stroke="url(#k5)" stroke-width="9" stroke-linejoin="round"/>
<polygon points="350.2,430.6 361.2,410.9 375.8,428.9" fill="url(#k3)" stroke="url(#k3)" stroke-width="9" stroke-linejoin="round"/>
<polygon points="323.1,410.7 332.2,431.9 306.1,428.0" fill="url(#k6)" stroke="url(#k6)" stroke-width="9" stroke-linejoin="round"/>
<polygon points="624.3,435.4 624.7,412.5 647.9,424.2" fill="url(#k2)" stroke="url(#k2)" stroke-width="9" stroke-linejoin="round"/>
<polygon points="320.5,436.6 310.7,417.3 335.3,419.7" fill="url(#k4)" stroke="url(#k4)" stroke-width="9" stroke-linejoin="round"/>
<polygon points="358.9,433.9 366.8,412.9 384.2,429.2" fill="url(#k6)" stroke="url(#k6)" stroke-width="9" stroke-linejoin="round"/>
<polygon points="415.8,425.9 391.7,437.1 392.3,413.8" fill="url(#k6)" stroke="url(#k6)" stroke-width="9" stroke-linejoin="round"/>
<polygon points="488.8,416.0 506.5,427.8 485.6,434.9" fill="url(#k4)" stroke="url(#k4)" stroke-width="9" stroke-linejoin="round"/>
<polygon points="410.8,436.3 384.3,430.0 403.9,413.6" fill="url(#k5)" stroke="url(#k5)" stroke-width="9" stroke-linejoin="round"/>
<polygon points="377.9,417.6 392.7,429.4 373.3,434.4" fill="url(#k3)" stroke="url(#k3)" stroke-width="9" stroke-linejoin="round"/>
<polygon points="434.3,429.3 448.5,418.7 452.2,434.5" fill="url(#k3)" stroke="url(#k3)" stroke-width="9" stroke-linejoin="round"/>
<polygon points="609.3,426.0 591.3,438.3 587.8,418.9" fill="url(#k4)" stroke="url(#k4)" stroke-width="9" stroke-linejoin="round"/>
<polygon points="593.2,422.3 591.8,437.3 577.1,428.7" fill="url(#k6)" stroke="url(#k6)" stroke-width="9" stroke-linejoin="round"/>
<polygon points="473.3,443.1 460.1,423.4 486.8,423.6" fill="url(#k6)" stroke="url(#k6)" stroke-width="9" stroke-linejoin="round"/>
<polygon points="423.6,422.6 448.0,428.5 429.8,443.5" fill="url(#k6)" stroke="url(#k6)" stroke-width="9" stroke-linejoin="round"/>
<polygon points="435.6,430.7 421.6,440.4 418.7,425.3" fill="url(#k1)" stroke="url(#k1)" stroke-width="9" stroke-linejoin="round"/>
<polygon points="651.6,428.9 637.3,444.4 628.7,426.1" fill="url(#k4)" stroke="url(#k4)" stroke-width="9" stroke-linejoin="round"/>
<polygon points="622.2,421.1 627.9,442.9 602.8,436.2" fill="url(#k7)" stroke="url(#k7)" stroke-width="9" stroke-linejoin="round"/>
<polygon points="617.7,424.9 635.2,435.8 615.4,443.2" fill="url(#k6)" stroke="url(#k6)" stroke-width="9" stroke-linejoin="round"/>
<polygon points="288.9,432.9 310.2,426.1 306.4,445.2" fill="url(#k7)" stroke="url(#k7)" stroke-width="9" stroke-linejoin="round"/>
<polygon points="637.5,441.4 618.0,437.9 631.3,425.3" fill="url(#k4)" stroke="url(#k4)" stroke-width="9" stroke-linejoin="round"/>
<polygon points="430.4,425.4 439.9,441.3 418.9,440.3" fill="url(#k2)" stroke="url(#k2)" stroke-width="9" stroke-linejoin="round"/>
<polygon points="480.0,427.9 506.0,431.6 489.3,448.9" fill="url(#k3)" stroke="url(#k3)" stroke-width="9" stroke-linejoin="round"/>
<polygon points="376.8,427.4 373.2,447.1 354.9,434.7" fill="url(#k3)" stroke="url(#k3)" stroke-width="9" stroke-linejoin="round"/>
<polygon points="434.3,432.4 455.4,434.0 443.2,448.7" fill="url(#k4)" stroke="url(#k4)" stroke-width="9" stroke-linejoin="round"/>
<polygon points="353.8,443.1 330.3,445.7 339.4,427.1" fill="url(#k1)" stroke="url(#k1)" stroke-width="9" stroke-linejoin="round"/>
<polygon points="625.9,445.4 634.4,432.3 643.6,445.2" fill="url(#k2)" stroke="url(#k2)" stroke-width="9" stroke-linejoin="round"/>
<polygon points="575.5,429.6 586.7,448.7 561.7,447.4" fill="url(#k4)" stroke="url(#k4)" stroke-width="9" stroke-linejoin="round"/>
<polygon points="689.2,453.8 685.4,435.0 706.5,441.6" fill="url(#k4)" stroke="url(#k4)" stroke-width="9" stroke-linejoin="round"/>
<polygon points="403.6,456.3 381.8,443.3 405.9,433.7" fill="url(#k3)" stroke="url(#k3)" stroke-width="9" stroke-linejoin="round"/>
<polygon points="408.4,435.6 422.8,448.4 402.6,452.6" fill="url(#k1)" stroke="url(#k1)" stroke-width="9" stroke-linejoin="round"/>
<polygon points="380.2,450.3 358.8,451.5 368.3,435.2" fill="url(#k7)" stroke="url(#k7)" stroke-width="9" stroke-linejoin="round"/>
<polygon points="611.5,455.2 615.3,434.8 634.2,447.8" fill="url(#k7)" stroke="url(#k7)" stroke-width="9" stroke-linejoin="round"/>
<polygon points="439.3,437.1 435.9,457.7 416.6,444.9" fill="url(#k7)" stroke="url(#k7)" stroke-width="9" stroke-linejoin="round"/>
<polygon points="643.4,440.1 651.3,453.9 633.3,452.8" fill="url(#k4)" stroke="url(#k4)" stroke-width="9" stroke-linejoin="round"/>
<polygon points="373.4,459.3 353.4,448.9 373.9,439.3" fill="url(#k2)" stroke="url(#k2)" stroke-width="9" stroke-linejoin="round"/>
<polygon points="327.6,457.3 330.7,439.5 347.3,450.7" fill="url(#k2)" stroke="url(#k2)" stroke-width="9" stroke-linejoin="round"/>
<polygon points="619.3,454.2 632.1,442.1 638.0,457.6" fill="url(#k4)" stroke="url(#k4)" stroke-width="9" stroke-linejoin="round"/>
<polygon points="592.9,455.7 614.0,446.7 612.6,466.7" fill="url(#k6)" stroke="url(#k6)" stroke-width="9" stroke-linejoin="round"/>
<polygon points="598.1,448.0 593.7,468.3 575.3,454.9" fill="url(#k1)" stroke="url(#k1)" stroke-width="9" stroke-linejoin="round"/>
<polygon points="566.5,447.9 592.5,455.7 571.5,471.0" fill="url(#k2)" stroke="url(#k2)" stroke-width="9" stroke-linejoin="round"/>
<polygon points="552.0,447.0 574.6,459.4 550.7,469.8" fill="url(#k2)" stroke="url(#k2)" stroke-width="9" stroke-linejoin="round"/>
<polygon points="642.9,452.8 638.7,468.8 624.5,457.7" fill="url(#k2)" stroke="url(#k2)" stroke-width="9" stroke-linejoin="round"/>
<polygon points="603.0,470.2 588.0,456.9 609.1,452.4" fill="url(#k5)" stroke="url(#k5)" stroke-width="9" stroke-linejoin="round"/>
<polygon points="560.7,453.0 580.4,460.1 563.3,471.0" fill="url(#k1)" stroke="url(#k1)" stroke-width="9" stroke-linejoin="round"/>
<polygon points="590.6,474.4 587.9,456.3 607.7,463.3" fill="url(#k7)" stroke="url(#k7)" stroke-width="9" stroke-linejoin="round"/>
<polygon points="670.4,465.3 654.0,472.6 654.8,456.9" fill="url(#k7)" stroke="url(#k7)" stroke-width="9" stroke-linejoin="round"/>
<polygon points="646.7,458.1 636.1,477.2 621.9,459.9" fill="url(#k7)" stroke="url(#k7)" stroke-width="9" stroke-linejoin="round"/>
<polygon points="568.9,483.1 549.6,470.2 572.4,462.5" fill="url(#k2)" stroke="url(#k2)" stroke-width="9" stroke-linejoin="round"/>
<polygon points="715.2,481.0 696.2,474.0 712.8,463.5" fill="url(#k6)" stroke="url(#k6)" stroke-width="9" stroke-linejoin="round"/>
<polygon points="562.3,462.7 576.1,478.9 552.6,481.0" fill="url(#k2)" stroke="url(#k2)" stroke-width="9" stroke-linejoin="round"/>
<polygon points="571.2,461.7 587.6,479.7 561.1,482.8" fill="url(#k1)" stroke="url(#k1)" stroke-width="9" stroke-linejoin="round"/>
<polygon points="549.7,463.4 560.5,483.7 534.5,481.5" fill="url(#k2)" stroke="url(#k2)" stroke-width="9" stroke-linejoin="round"/>
<polygon points="548.9,486.1 526.7,480.2 543.8,466.9" fill="url(#k7)" stroke="url(#k7)" stroke-width="9" stroke-linejoin="round"/>
<polygon points="669.5,468.3 680.5,483.7 659.2,484.1" fill="url(#k2)" stroke="url(#k2)" stroke-width="9" stroke-linejoin="round"/>
<polygon points="645.9,493.5 629.4,479.4 652.0,474.3" fill="url(#k6)" stroke="url(#k6)" stroke-width="9" stroke-linejoin="round"/>
<polygon points="573.5,475.2 577.6,494.1 556.3,487.7" fill="url(#k4)" stroke="url(#k4)" stroke-width="9" stroke-linejoin="round"/>
<polygon points="512.1,474.6 533.0,487.6 509.3,496.5" fill="url(#k6)" stroke="url(#k6)" stroke-width="9" stroke-linejoin="round"/>
<polygon points="634.1,483.2 620.6,497.0 613.3,480.1" fill="url(#k2)" stroke="url(#k2)" stroke-width="9" stroke-linejoin="round"/>
<polygon points="581.1,482.8 598.5,485.7 586.8,497.0" fill="url(#k3)" stroke="url(#k3)" stroke-width="9" stroke-linejoin="round"/>
<polygon points="695.7,496.7 678.0,491.6 692.1,481.1" fill="url(#k7)" stroke="url(#k7)" stroke-width="9" stroke-linejoin="round"/>
<polygon points="627.6,487.0 624.0,504.2 608.3,492.9" fill="url(#k6)" stroke="url(#k6)" stroke-width="9" stroke-linejoin="round"/>
<polygon points="515.2,491.7 533.7,493.7 522.4,506.3" fill="url(#k2)" stroke="url(#k2)" stroke-width="9" stroke-linejoin="round"/>
<polygon points="679.5,492.3 667.8,509.9 655.7,492.6" fill="url(#k7)" stroke="url(#k7)" stroke-width="9" stroke-linejoin="round"/>
<polygon points="556.3,506.1 560.5,488.6 576.3,500.4" fill="url(#k2)" stroke="url(#k2)" stroke-width="9" stroke-linejoin="round"/>
<polygon points="530.4,508.7 504.2,502.0 524.1,486.1" fill="url(#k4)" stroke="url(#k4)" stroke-width="9" stroke-linejoin="round"/>
<polygon points="619.8,508.3 602.5,499.2 620.4,491.0" fill="url(#k6)" stroke="url(#k6)" stroke-width="9" stroke-linejoin="round"/>
<polygon points="627.0,491.0 639.6,501.9 622.2,505.7" fill="url(#k2)" stroke="url(#k2)" stroke-width="9" stroke-linejoin="round"/>
<polygon points="605.9,499.8 583.8,512.1 582.3,489.6" fill="url(#k2)" stroke="url(#k2)" stroke-width="9" stroke-linejoin="round"/>
<polygon points="525.2,492.7 526.5,510.8 507.5,502.7" fill="url(#k3)" stroke="url(#k3)" stroke-width="9" stroke-linejoin="round"/>
<polygon points="668.8,511.4 653.2,500.9 671.6,494.7" fill="url(#k7)" stroke="url(#k7)" stroke-width="9" stroke-linejoin="round"/>
<polygon points="652.7,510.6 652.6,494.5 669.0,502.5" fill="url(#k2)" stroke="url(#k2)" stroke-width="9" stroke-linejoin="round"/>
<polygon points="582.2,512.2 598.4,495.8 607.0,515.9" fill="url(#k3)" stroke="url(#k3)" stroke-width="9" stroke-linejoin="round"/>
<polygon points="565.9,513.9 546.0,513.2 556.6,498.9" fill="url(#k6)" stroke="url(#k6)" stroke-width="9" stroke-linejoin="round"/>
<polygon points="651.2,509.5 633.7,516.8 635.1,500.3" fill="url(#k7)" stroke="url(#k7)" stroke-width="9" stroke-linejoin="round"/>
<polygon points="619.5,501.9 644.5,505.2 628.6,522.0" fill="url(#k7)" stroke="url(#k7)" stroke-width="9" stroke-linejoin="round"/>
<polygon points="642.8,501.7 656.9,515.2 636.1,518.9" fill="url(#k5)" stroke="url(#k5)" stroke-width="9" stroke-linejoin="round"/>
<polygon points="556.6,522.0 540.2,513.7 556.8,505.8" fill="url(#k6)" stroke="url(#k6)" stroke-width="9" stroke-linejoin="round"/>
<polygon points="562.0,510.1 552.3,523.1 544.0,509.5" fill="url(#k5)" stroke="url(#k5)" stroke-width="9" stroke-linejoin="round"/>
<polygon points="602.2,522.0 606.9,504.5 622.4,516.7" fill="url(#k2)" stroke="url(#k2)" stroke-width="9" stroke-linejoin="round"/>
<polygon points="581.7,506.2 601.2,514.2 583.3,524.5" fill="url(#k1)" stroke="url(#k1)" stroke-width="9" stroke-linejoin="round"/>
<polygon points="574.8,519.9 586.5,504.9 596.0,520.9" fill="url(#k7)" stroke="url(#k7)" stroke-width="9" stroke-linejoin="round"/>
<polygon points="572.8,518.0 560.0,532.5 551.6,515.9" fill="url(#k7)" stroke="url(#k7)" stroke-width="9" stroke-linejoin="round"/>
<polygon points="584.6,514.1 599.7,526.7 579.3,531.5" fill="url(#k7)" stroke="url(#k7)" stroke-width="9" stroke-linejoin="round"/>
<polygon points="565.1,518.7 584.1,533.1 559.9,539.9" fill="url(#k7)" stroke="url(#k7)" stroke-width="9" stroke-linejoin="round"/>
<polygon points="666.3,533.6 649.2,538.3 653.0,523.4" fill="url(#k7)" stroke="url(#k7)" stroke-width="9" stroke-linejoin="round"/>
<polygon points="592.0,548.8 584.9,527.4 610.3,532.9" fill="url(#k3)" stroke="url(#k3)" stroke-width="9" stroke-linejoin="round"/>
<polygon points="653.6,525.0 666.8,542.0 643.0,543.2" fill="url(#k5)" stroke="url(#k5)" stroke-width="9" stroke-linejoin="round"/>
<polygon points="655.8,533.6 641.3,553.5 628.2,532.9" fill="url(#k6)" stroke="url(#k6)" stroke-width="9" stroke-linejoin="round"/>
<polygon points="617.0,548.4 590.2,552.1 599.8,530.6" fill="url(#k7)" stroke="url(#k7)" stroke-width="9" stroke-linejoin="round"/>
<polygon points="604.4,533.2 616.8,550.4 593.1,550.9" fill="url(#k7)" stroke="url(#k7)" stroke-width="9" stroke-linejoin="round"/>
<polygon points="641.6,545.8 622.7,558.9 618.8,538.4" fill="url(#k3)" stroke="url(#k3)" stroke-width="9" stroke-linejoin="round"/>
<polygon points="648.8,561.7 631.6,543.9 658.3,540.1" fill="url(#k2)" stroke="url(#k2)" stroke-width="9" stroke-linejoin="round"/>
<polygon points="595.0,553.8 574.2,555.6 582.7,539.3" fill="url(#k3)" stroke="url(#k3)" stroke-width="9" stroke-linejoin="round"/>
<polygon points="606.9,565.1 590.7,549.7 614.5,545.4" fill="url(#k5)" stroke="url(#k5)" stroke-width="9" stroke-linejoin="round"/>
<polygon points="609.2,565.5 591.0,550.3 615.5,544.5" fill="url(#k1)" stroke="url(#k1)" stroke-width="9" stroke-linejoin="round"/>
<polygon points="603.9,567.6 582.7,555.4 605.7,545.9" fill="url(#k5)" stroke="url(#k5)" stroke-width="9" stroke-linejoin="round"/>
<polygon points="618.8,556.2 645.4,555.3 633.0,575.4" fill="url(#k3)" stroke="url(#k3)" stroke-width="9" stroke-linejoin="round"/>
<polygon points="603.2,567.4 620.6,549.7 630.0,571.4" fill="url(#k6)" stroke="url(#k6)" stroke-width="9" stroke-linejoin="round"/>
<polygon points="620.1,573.7 604.9,563.7 622.7,557.5" fill="url(#k7)" stroke="url(#k7)" stroke-width="9" stroke-linejoin="round"/>
</g></svg>
<div class="gbox" style="left:2186px;top:34px;width:591px;height:167px"><span style="left:189px;top:19px;font-size:112px;line-height:135px;transform:scale(0.96,0.93);-webkit-text-stroke:1.5px #000">蕎麥</span></div>
<div class="leg"></div>
<div class="sq" style="left:1314px;top:391px;width:97px;height:102px;background:#FF0000;border-radius:4px"></div>
<div class="sq" style="left:1318px;top:554px;width:94px;height:98px;background:#92D050"></div>
<div class="sq" style="left:1318px;top:707px;width:94px;height:97px;background:#558ED5"></div>
<div class="lt" style="left:1456px;top:407px">：超過標準值</div>
<div class="lt" style="left:1456px;top:555px">：低於標準值</div>
<div class="lt" style="left:1456px;top:703px">：未達檢測下限</div>
<div class="gl" style="left:216px;top:1066.0px;width:1335px"></div>
<div class="gl" style="left:216px;top:1263.9px;width:1335px"></div>
<div class="gl" style="left:216px;top:1461.8px;width:1335px"></div>
<div class="gl" style="left:216px;top:1659.7px;width:1335px"></div>
<div class="gl" style="left:216px;top:1857.6px;width:1335px"></div>
<div class="gl" style="left:216px;top:2055.5px;width:1335px"></div>
<div class="bar" style="left:243px;top:1427.0px;height:630.0px;background:#5B9BD5"></div>
<div class="bar" style="left:243px;top:1067.5px;height:359.5px;background:#92D050"></div>
<div class="xl" style="left:204px;top:2078px">H23</div>
<div class="bar" style="left:338.4px;top:1692.0px;height:365.0px;background:#5B9BD5"></div>
<div class="bar" style="left:338.4px;top:1077.8px;height:614.2px;background:#92D050"></div>
<div class="bar" style="left:338.4px;top:1067.5px;height:10.3px;background:#FF0000"></div>
<div class="xl" style="left:299.4px;top:2078px">H24</div>
<div class="bar" style="left:434.4px;top:1706.6px;height:350.4px;background:#5B9BD5"></div>
<div class="bar" style="left:434.4px;top:1086.6px;height:620.0px;background:#92D050"></div>
<div class="bar" style="left:434.4px;top:1067.5px;height:19.1px;background:#FF0000"></div>
<div class="xl" style="left:395.4px;top:2078px">H25</div>
<div class="bar" style="left:528.8px;top:1364.0px;height:693.0px;background:#5B9BD5"></div>
<div class="bar" style="left:528.8px;top:1071.8px;height:292.2px;background:#92D050"></div>
<div class="bar" style="left:528.8px;top:1067.5px;height:4.3px;background:#FF0000"></div>
<div class="xl" style="left:489.79999999999995px;top:2078px">H26</div>
<div class="bar" style="left:624.7px;top:1422.9px;height:634.1px;background:#5B9BD5"></div>
<div class="bar" style="left:624.7px;top:1071.8px;height:351.1px;background:#92D050"></div>
<div class="bar" style="left:624.7px;top:1067.5px;height:4.3px;background:#FF0000"></div>
<div class="xl" style="left:585.7px;top:2078px">H27</div>
<div class="bar" style="left:720.7px;top:1469.8px;height:587.2px;background:#5B9BD5"></div>
<div class="bar" style="left:720.7px;top:1067.5px;height:402.3px;background:#92D050"></div>
<div class="xl" style="left:681.7px;top:2078px">H28</div>
<div class="bar" style="left:816.6px;top:1445.2px;height:611.8px;background:#5B9BD5"></div>
<div class="bar" style="left:816.6px;top:1067.5px;height:377.7px;background:#92D050"></div>
<div class="xl" style="left:777.6px;top:2078px">H29</div>
<div class="bar" style="left:910.7px;top:1331.6px;height:725.4px;background:#5B9BD5"></div>
<div class="bar" style="left:910.7px;top:1067.5px;height:264.1px;background:#92D050"></div>
<div class="xl" style="left:871.7px;top:2078px">H30</div>
<div class="bar" style="left:1006.4px;top:1166.1px;height:890.9px;background:#5B9BD5"></div>
<div class="bar" style="left:1006.4px;top:1067.5px;height:98.6px;background:#92D050"></div>
<div class="xl" style="left:967.4000000000001px;top:2078px">R1</div>
<div class="bar" style="left:1102.1px;top:1335.6px;height:721.4px;background:#5B9BD5"></div>
<div class="bar" style="left:1102.1px;top:1067.5px;height:268.1px;background:#92D050"></div>
<div class="xl" style="left:1063.1px;top:2078px">R2</div>
<div class="bar" style="left:1198.2px;top:1335.6px;height:721.4px;background:#5B9BD5"></div>
<div class="bar" style="left:1198.2px;top:1067.5px;height:268.1px;background:#92D050"></div>
<div class="xl" style="left:1159.2px;top:2078px">R3</div>
<div class="bar" style="left:1292.3px;top:1212.9px;height:844.1px;background:#5B9BD5"></div>
<div class="bar" style="left:1292.3px;top:1067.5px;height:145.4px;background:#92D050"></div>
<div class="xl" style="left:1253.3px;top:2078px">R4</div>
<div class="bar" style="left:1388px;top:1382.8px;height:674.2px;background:#5B9BD5"></div>
<div class="bar" style="left:1388px;top:1067.5px;height:315.3px;background:#92D050"></div>
<div class="xl" style="left:1349px;top:2078px">R5</div>
<div class="bar" style="left:1484px;top:1319.1px;height:737.9px;background:#5B9BD5"></div>
<div class="bar" style="left:1484px;top:1067.5px;height:251.6px;background:#92D050"></div>
<div class="xl" style="left:1445px;top:2078px">R6</div>
<div class="gl" style="left:216px;top:2055.5px;width:1335px"></div>
<div class="yl" style="left:-18px;top:1038.0px">100%</div>
<div class="yl" style="left:-18px;top:1235.9px">80%</div>
<div class="yl" style="left:-18px;top:1433.8px">60%</div>
<div class="yl" style="left:-18px;top:1631.7px">40%</div>
<div class="yl" style="left:-18px;top:1829.6px">20%</div>
<div class="yl" style="left:-18px;top:2027.5px">0%</div>
<div class="ct" style="left:38px;top:902px">超過標準值的比例</div>
<div class="gl" style="left:1829px;top:1066.0px;width:1334px"></div>
<div class="gl" style="left:1829px;top:1263.9px;width:1334px"></div>
<div class="gl" style="left:1829px;top:1461.8px;width:1334px"></div>
<div class="gl" style="left:1829px;top:1659.7px;width:1334px"></div>
<div class="gl" style="left:1829px;top:1857.6px;width:1334px"></div>
<div class="gl" style="left:1829px;top:2055.5px;width:1334px"></div>
<div class="bar" style="left:1855px;top:1200.8px;height:856.2px;background:#5B9BD5"></div>
<div class="bar" style="left:1855px;top:1067.5px;height:133.3px;background:#92D050"></div>
<div class="xl" style="left:1816px;top:2076px">H23</div>
<div class="bar" style="left:1951px;top:1408.6px;height:648.4px;background:#5B9BD5"></div>
<div class="bar" style="left:1951px;top:1067.5px;height:341.1px;background:#92D050"></div>
<div class="xl" style="left:1912px;top:2076px">H24</div>
<div class="bar" style="left:2046.5px;top:1302.3px;height:754.7px;background:#5B9BD5"></div>
<div class="bar" style="left:2046.5px;top:1067.5px;height:234.8px;background:#92D050"></div>
<div class="xl" style="left:2007.5px;top:2076px">H25</div>
<div class="bar" style="left:2142.5px;top:1169.8px;height:887.2px;background:#5B9BD5"></div>
<div class="bar" style="left:2142.5px;top:1067.5px;height:102.3px;background:#92D050"></div>
<div class="xl" style="left:2103.5px;top:2076px">H26</div>
<div class="bar" style="left:2236px;top:1169.8px;height:887.2px;background:#5B9BD5"></div>
<div class="bar" style="left:2236px;top:1067.5px;height:102.3px;background:#92D050"></div>
<div class="xl" style="left:2197px;top:2076px">H27</div>
<div class="bar" style="left:2332px;top:1186.0px;height:871.0px;background:#5B9BD5"></div>
<div class="bar" style="left:2332px;top:1067.5px;height:118.5px;background:#92D050"></div>
<div class="xl" style="left:2293px;top:2076px">H28</div>
<div class="bar" style="left:2427.7px;top:1155.4px;height:901.6px;background:#5B9BD5"></div>
<div class="bar" style="left:2427.7px;top:1067.5px;height:87.9px;background:#92D050"></div>
<div class="xl" style="left:2388.7px;top:2076px">H29</div>
<div class="bar" style="left:2523px;top:1190.3px;height:866.7px;background:#5B9BD5"></div>
<div class="bar" style="left:2523px;top:1067.5px;height:122.8px;background:#92D050"></div>
<div class="xl" style="left:2484px;top:2076px">H30</div>
<div class="bar" style="left:2617px;top:1141.4px;height:915.6px;background:#5B9BD5"></div>
<div class="bar" style="left:2617px;top:1067.5px;height:73.9px;background:#92D050"></div>
<div class="xl" style="left:2578px;top:2076px">R1</div>
<div class="bar" style="left:2712.5px;top:1208.3px;height:848.7px;background:#5B9BD5"></div>
<div class="bar" style="left:2712.5px;top:1067.5px;height:140.8px;background:#92D050"></div>
<div class="xl" style="left:2673.5px;top:2076px">R2</div>
<div class="bar" style="left:2808.5px;top:1212.6px;height:844.4px;background:#5B9BD5"></div>
<div class="bar" style="left:2808.5px;top:1067.5px;height:145.1px;background:#92D050"></div>
<div class="xl" style="left:2769.5px;top:2076px">R3</div>
<div class="bar" style="left:2904px;top:1175.9px;height:881.1px;background:#5B9BD5"></div>
<div class="bar" style="left:2904px;top:1067.5px;height:108.4px;background:#92D050"></div>
<div class="xl" style="left:2865px;top:2076px">R4</div>
<div class="bar" style="left:2998px;top:1163.7px;height:893.3px;background:#5B9BD5"></div>
<div class="bar" style="left:2998px;top:1090.3px;height:73.4px;background:#92D050"></div>
<div class="bar" style="left:2998px;top:1067.5px;height:22.8px;background:#FF0000"></div>
<div class="xl" style="left:2959px;top:2076px">R5</div>
<div class="bar" style="left:3093px;top:1123.1px;height:933.9px;background:#5B9BD5"></div>
<div class="bar" style="left:3093px;top:1067.5px;height:55.6px;background:#92D050"></div>
<div class="xl" style="left:3054px;top:2076px">R6</div>
<div class="gl" style="left:1829px;top:2055.5px;width:1334px"></div>
<div class="yl" style="left:1594px;top:1038.0px">100%</div>
<div class="yl" style="left:1594px;top:1235.9px">80%</div>
<div class="yl" style="left:1594px;top:1433.8px">60%</div>
<div class="yl" style="left:1594px;top:1631.7px">40%</div>
<div class="yl" style="left:1594px;top:1829.6px">20%</div>
<div class="yl" style="left:1594px;top:2027.5px">0%</div>
<div class="ct" style="left:1691px;top:902px">超過標準值的比例</div>
<div class="ring" style="left:315px;top:2247px;width:68px;height:69px"></div>
<div class="bt" style="left:393px;top:2245px;font-family:'Liberation Sans',sans-serif;font-size:68px;-webkit-text-stroke:0">2016</div>
<div class="bt" style="left:545px;top:2245px;letter-spacing:1.1px">年產以後未超過標準值</div>
<div class="ring" style="left:1811px;top:2244px;width:61px;height:62px"></div>
<div class="bt" style="left:1907px;top:2228px;letter-spacing:0.75px">目前為止<span style="position:relative;left:-27px">，</span>除了受到交叉污染的情況外<span style="position:relative;left:-27px">，</span></div>
<div class="bt" style="left:1904px;top:2357px;letter-spacing:1.2px">未超過標準值</div>
</body></html>
